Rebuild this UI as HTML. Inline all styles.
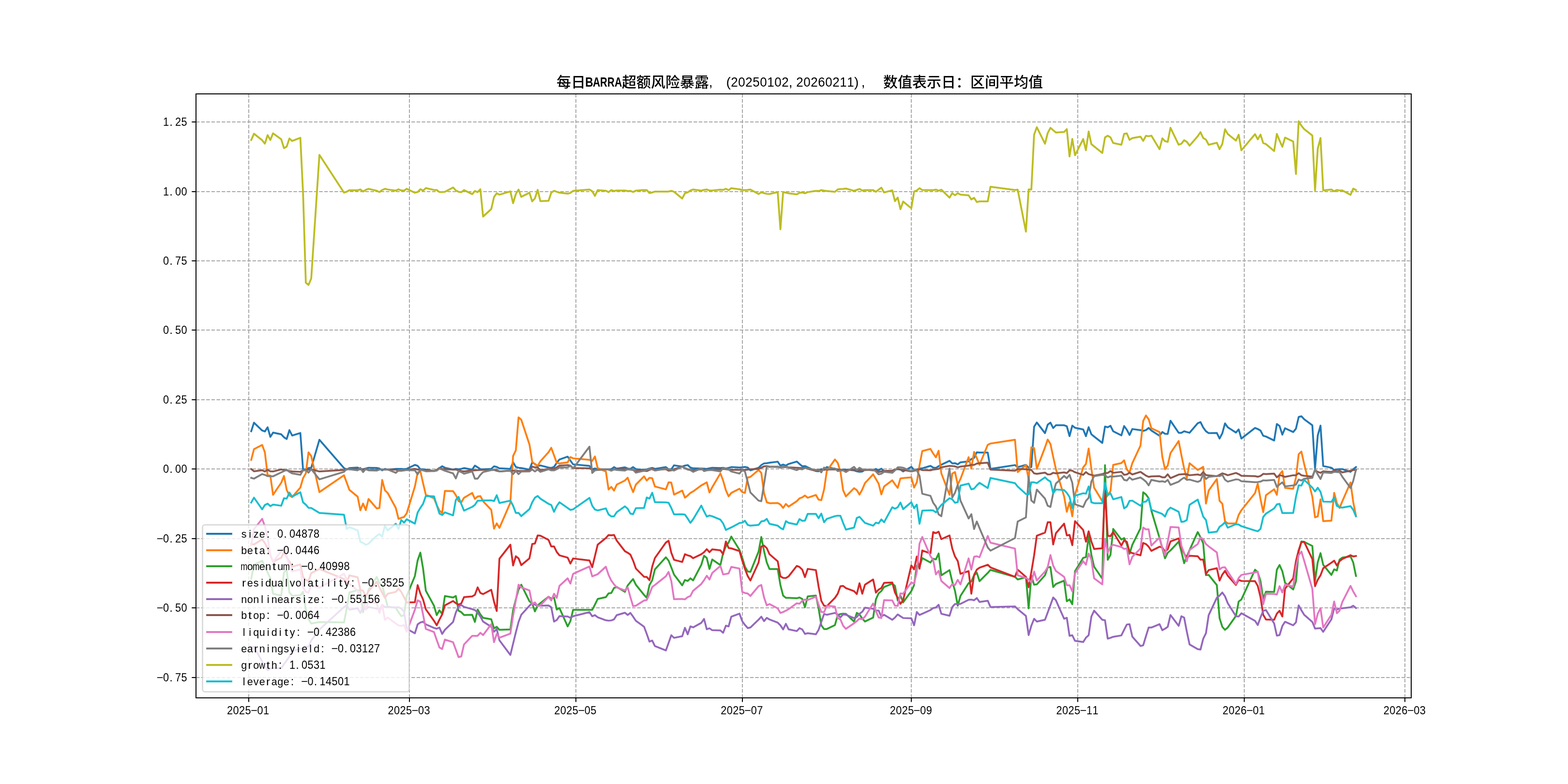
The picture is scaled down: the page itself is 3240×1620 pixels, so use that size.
<!DOCTYPE html>
<html lang="zh-CN"><head><meta charset="utf-8">
<title>每日BARRA超额风险暴露</title>
<style>html,body{margin:0;padding:0;background:#fff;}body{width:3240px;height:1620px;overflow:hidden;}svg{display:block;}text{font-family:"Liberation Sans", "Noto Sans CJK SC", sans-serif;}</style>
</head><body>
<svg xmlns="http://www.w3.org/2000/svg" width="3240" height="1620" viewBox="0 0 3240 1620">
<rect x="0" y="0" width="3240" height="1620" fill="#ffffff"/>
<defs><clipPath id="axclip"><rect x="405" y="194.4" width="2511" height="1247.4"/></clipPath></defs>
<g fill="none" stroke="#a8a8a8" stroke-width="2" stroke-dasharray="7.4 3.2">
<path d="M514 1441.8 V194.4"/>
<path d="M846 1441.8 V194.4"/>
<path d="M1190 1441.8 V194.4"/>
<path d="M1534 1441.8 V194.4"/>
<path d="M1883 1441.8 V194.4"/>
<path d="M2227 1441.8 V194.4"/>
<path d="M2571 1441.8 V194.4"/>
<path d="M2903 1441.8 V194.4"/>
<path d="M405 252 H2916"/>
<path d="M405 396 H2916"/>
<path d="M405 539 H2916"/>
<path d="M405 682 H2916"/>
<path d="M405 826 H2916"/>
<path d="M405 969 H2916"/>
<path d="M405 1113 H2916"/>
<path d="M405 1256 H2916"/>
<path d="M405 1400 H2916"/>
</g>
<g clip-path="url(#axclip)" fill="none" stroke-width="3.75" stroke-linejoin="round" stroke-linecap="square">
<path stroke="#1f77b4" d="M519.1 891.1 L524.8 873.3 L541.7 889.6 L547.3 891.6 L553.0 882.9 L558.6 902.8 L564.2 893.9 L581.1 897.4 L586.8 903.6 L592.4 907.1 L598.0 888.8 L603.7 900.0 L620.6 894.7 L626.2 970.3 L631.9 969.6 L637.5 967.2 L643.1 966.5 L660.0 908.7 L710.8 967.2 L716.4 970.3 L722.0 967.2 L739.0 966.1 L744.6 968.8 L750.2 969.6 L755.9 968.0 L761.5 966.5 L778.4 966.8 L784.0 968.0 L789.7 971.9 L795.3 968.8 L801.0 970.3 L817.9 968.8 L823.5 968.8 L829.1 968.8 L834.8 969.3 L840.4 968.8 L857.3 960.6 L863.0 962.6 L868.6 969.6 L874.2 969.6 L879.9 970.3 L896.8 973.4 L902.4 971.1 L908.0 967.2 L913.7 963.4 L919.3 966.5 L936.2 970.3 L941.9 968.8 L947.5 969.6 L953.1 968.8 L958.8 967.2 L975.7 970.3 L981.3 962.1 L987.0 965.7 L992.6 969.3 L998.2 969.6 L1015.1 968.8 L1020.8 963.7 L1026.4 964.9 L1032.0 967.7 L1054.6 968.8 L1060.2 955.3 L1065.9 964.9 L1071.5 966.5 L1077.1 967.2 L1094.0 970.3 L1099.7 955.6 L1105.3 958.7 L1111.0 962.6 L1116.6 961.8 L1133.5 966.1 L1139.1 966.8 L1144.8 964.9 L1150.4 956.4 L1156.0 949.4 L1173.0 943.6 L1178.6 951.7 L1184.2 959.5 L1218.0 962.6 L1223.7 969.6 L1229.3 968.0 L1235.0 969.3 L1251.9 969.6 L1257.5 969.6 L1263.1 969.6 L1268.8 965.2 L1274.4 968.3 L1291.3 965.7 L1297.0 968.0 L1302.6 968.8 L1308.2 965.2 L1313.9 969.3 L1330.8 971.1 L1336.4 969.9 L1342.0 968.0 L1347.7 966.8 L1353.3 968.8 L1375.9 965.2 L1381.5 969.6 L1387.1 969.6 L1392.8 961.5 L1409.7 964.1 L1415.3 962.1 L1421.0 961.0 L1426.6 966.1 L1432.2 967.7 L1449.1 968.0 L1454.8 968.3 L1460.4 968.8 L1466.0 967.7 L1471.7 966.5 L1488.6 967.2 L1494.2 966.5 L1499.9 968.0 L1505.5 966.8 L1511.1 965.2 L1528.0 966.1 L1533.7 965.7 L1539.3 964.9 L1545.0 966.1 L1550.6 971.9 L1567.5 966.5 L1573.1 961.0 L1578.8 957.5 L1584.4 957.1 L1590.0 956.1 L1607.0 954.0 L1612.6 962.1 L1618.2 959.9 L1623.9 962.1 L1629.5 958.7 L1646.4 953.7 L1652.0 958.7 L1657.7 963.4 L1663.3 963.0 L1669.0 965.7 L1685.9 973.4 L1691.5 973.9 L1697.1 969.3 L1702.8 970.8 L1708.4 965.2 L1725.3 968.8 L1731.0 969.9 L1736.6 970.8 L1742.2 970.3 L1747.9 970.3 L1764.8 971.9 L1770.4 973.9 L1776.0 975.0 L1781.7 974.5 L1787.3 970.3 L1804.2 971.9 L1809.9 968.8 L1815.5 971.9 L1821.1 968.3 L1826.8 973.4 L1843.7 972.7 L1849.3 970.3 L1855.0 969.3 L1860.6 970.3 L1866.2 974.2 L1883.1 964.6 L1888.8 971.1 L1894.4 970.3 L1900.0 968.0 L1905.7 967.7 L1922.6 962.6 L1928.2 966.1 L1933.9 966.8 L1939.5 963.4 L1945.1 960.2 L1962.0 952.2 L1967.7 957.5 L1973.3 957.1 L1979.0 959.5 L1984.6 955.3 L2001.5 953.3 L2007.1 948.6 L2012.8 946.3 L2018.4 934.6 L2024.0 935.1 L2041.0 935.1 L2046.6 968.8 L2097.3 961.0 L2102.9 965.2 L2119.9 960.6 L2125.5 966.5 L2131.1 965.2 L2136.8 881.8 L2142.4 873.0 L2159.3 895.0 L2164.9 877.6 L2170.6 873.3 L2176.2 884.5 L2181.9 878.7 L2198.8 878.7 L2204.4 880.7 L2210.0 901.2 L2215.7 879.5 L2221.3 883.9 L2238.2 887.3 L2243.9 901.2 L2249.5 882.6 L2255.1 897.4 L2260.8 902.0 L2277.7 915.2 L2283.3 881.4 L2288.9 882.9 L2294.6 879.8 L2300.2 891.1 L2317.1 899.7 L2322.8 880.3 L2328.4 888.0 L2334.0 898.9 L2339.7 886.5 L2356.6 888.8 L2362.2 890.4 L2367.9 888.8 L2373.5 884.2 L2379.1 889.6 L2396.0 900.5 L2401.7 892.7 L2407.3 896.3 L2412.9 896.6 L2418.6 869.4 L2435.5 894.3 L2441.1 894.3 L2446.8 891.1 L2452.4 892.7 L2458.0 894.3 L2474.9 874.5 L2480.6 872.2 L2486.2 883.4 L2491.9 891.1 L2497.5 895.0 L2514.4 894.6 L2520.0 906.2 L2525.7 895.3 L2531.3 874.8 L2536.9 882.9 L2553.9 893.8 L2559.5 887.3 L2565.1 906.2 L2593.3 884.2 L2598.9 886.5 L2604.6 889.6 L2610.2 900.5 L2615.9 902.0 L2632.8 910.2 L2638.4 876.1 L2644.0 880.3 L2649.7 898.1 L2655.3 884.9 L2672.2 892.7 L2677.9 885.7 L2683.5 861.6 L2689.1 860.1 L2694.8 866.3 L2711.7 878.7 L2717.3 968.8 L2722.9 899.7 L2728.6 879.5 L2734.2 963.0 L2751.1 966.5 L2756.8 971.1 L2762.4 969.9 L2768.0 969.3 L2773.7 969.3 L2790.6 975.0 L2796.2 969.6 L2801.9 965.2"/>
<path stroke="#ff7f0e" d="M519.1 950.2 L524.8 928.1 L541.7 919.4 L547.3 934.6 L553.0 982.0 L558.6 982.8 L564.2 1022.4 L581.1 997.5 L586.8 983.5 L592.4 1012.3 L598.0 1023.9 L603.7 1027.0 L620.6 1007.6 L626.2 988.2 L631.9 978.1 L637.5 934.6 L643.1 942.4 L660.0 1016.9 L710.8 982.0 L716.4 997.2 L722.0 1012.3 L739.0 1026.2 L744.6 1054.3 L750.2 1040.4 L755.9 1054.0 L761.5 1031.1 L778.4 1050.5 L784.0 1049.7 L789.7 991.6 L795.3 1013.0 L801.0 1018.5 L817.9 1049.7 L823.5 1072.2 L829.1 1069.9 L834.8 1068.3 L840.4 1060.6 L857.3 1005.3 L863.0 976.6 L868.6 973.4 L874.2 998.3 L879.9 1022.4 L896.8 1029.5 L902.4 1043.5 L908.0 1055.1 L913.7 1059.8 L919.3 1014.3 L936.2 1014.9 L941.9 1023.1 L947.5 1035.6 L953.1 1037.9 L958.8 1028.6 L975.7 1018.5 L981.3 1030.9 L987.0 1025.8 L992.6 1025.2 L998.2 1035.7 L1015.1 1053.6 L1020.8 1092.4 L1026.4 1081.5 L1032.0 1090.8 L1054.6 1038.7 L1060.2 942.4 L1065.9 930.4 L1071.5 862.4 L1077.1 867.4 L1094.0 918.3 L1099.7 954.0 L1105.3 959.5 L1111.0 962.6 L1116.6 953.3 L1133.5 934.3 L1139.1 925.3 L1144.8 940.8 L1150.4 956.4 L1156.0 957.6 L1173.0 955.3 L1178.6 944.4 L1184.2 947.0 L1218.0 950.2 L1223.7 952.5 L1229.3 943.2 L1235.0 967.2 L1251.9 974.2 L1257.5 1011.5 L1263.1 1006.1 L1268.8 1013.8 L1274.4 1001.4 L1291.3 992.9 L1297.0 987.0 L1302.6 1003.0 L1308.2 1016.9 L1313.9 1001.4 L1330.8 984.3 L1336.4 992.9 L1342.0 987.4 L1347.7 988.2 L1353.3 1005.3 L1375.9 1011.2 L1381.5 996.7 L1387.1 997.2 L1392.8 1022.0 L1409.7 1013.8 L1415.3 1028.3 L1421.0 1023.9 L1426.6 1018.5 L1432.2 1015.4 L1449.1 1003.0 L1454.8 999.8 L1460.4 996.7 L1466.0 1017.7 L1471.7 1006.8 L1488.6 978.1 L1494.2 992.9 L1499.9 1013.0 L1505.5 1025.5 L1511.1 1018.5 L1528.0 1009.9 L1533.7 1016.9 L1539.3 1018.5 L1545.0 986.6 L1550.6 985.4 L1567.5 971.1 L1573.1 977.3 L1578.8 1019.3 L1584.4 1037.9 L1590.0 1039.8 L1607.0 1039.4 L1612.6 1042.5 L1618.2 1049.5 L1623.9 1041.3 L1629.5 1046.9 L1646.4 1035.6 L1652.0 1029.8 L1657.7 1027.8 L1663.3 1023.9 L1669.0 1028.6 L1685.9 1022.7 L1691.5 1032.5 L1697.1 1033.5 L1702.8 1011.5 L1708.4 973.4 L1725.3 949.4 L1731.0 956.4 L1736.6 974.2 L1742.2 1013.0 L1747.9 1025.8 L1764.8 1008.7 L1770.4 1012.7 L1776.0 1022.0 L1781.7 1011.5 L1787.3 998.3 L1804.2 980.1 L1809.9 989.8 L1815.5 999.4 L1821.1 1021.6 L1826.8 1005.3 L1843.7 992.5 L1849.3 1000.6 L1855.0 1008.1 L1860.6 988.5 L1866.2 987.9 L1883.1 986.3 L1888.8 1007.6 L1894.4 996.7 L1900.0 961.8 L1905.7 932.0 L1922.6 927.6 L1928.2 937.0 L1933.9 945.0 L1939.5 931.5 L1945.1 978.1 L1962.0 1022.4 L1967.7 978.6 L1973.3 975.5 L1979.0 1001.4 L1984.6 989.8 L2001.5 944.7 L2007.1 968.3 L2012.8 933.9 L2018.4 946.3 L2024.0 960.6 L2041.0 919.1 L2046.6 916.5 L2097.3 908.7 L2102.9 975.5 L2119.9 961.0 L2125.5 990.5 L2131.1 924.2 L2136.8 925.8 L2142.4 968.8 L2159.3 924.5 L2164.9 908.2 L2170.6 917.5 L2176.2 943.9 L2181.9 969.6 L2198.8 1025.6 L2204.4 1057.5 L2210.0 1038.0 L2215.7 1066.8 L2221.3 1022.5 L2238.2 965.7 L2243.9 958.7 L2249.5 926.9 L2255.1 968.0 L2260.8 1007.8 L2277.7 1035.4 L2283.3 1031.1 L2288.9 1023.3 L2294.6 1014.8 L2300.2 960.6 L2317.1 956.8 L2322.8 951.2 L2328.4 970.3 L2334.0 976.1 L2339.7 957.1 L2356.6 920.7 L2362.2 869.9 L2367.9 858.5 L2373.5 866.3 L2379.1 884.9 L2396.0 892.7 L2401.7 943.9 L2407.3 969.6 L2412.9 961.8 L2418.6 936.2 L2435.5 911.3 L2441.1 940.1 L2446.8 968.0 L2452.4 988.2 L2458.0 957.1 L2474.9 971.1 L2480.6 968.0 L2486.2 964.6 L2491.9 1040.7 L2497.5 1013.7 L2514.4 989.9 L2520.0 1034.9 L2525.7 1040.7 L2531.3 1077.3 L2536.9 1081.5 L2553.9 1081.5 L2559.5 1064.0 L2565.1 1054.3 L2593.3 1018.9 L2598.9 999.2 L2604.6 1031.1 L2610.2 1058.2 L2615.9 1023.3 L2632.8 1010.9 L2638.4 1022.5 L2644.0 980.4 L2649.7 973.4 L2655.3 1008.1 L2672.2 1009.9 L2677.9 986.6 L2683.5 938.5 L2689.1 933.1 L2694.8 958.7 L2711.7 1026.4 L2717.3 1069.1 L2722.9 1067.1 L2728.6 1031.8 L2734.2 1076.9 L2751.1 1075.8 L2756.8 1018.3 L2762.4 1039.6 L2768.0 1049.7 L2773.7 1035.7 L2790.6 996.9 L2796.2 1037.3 L2801.9 1066.0"/>
<path stroke="#2ca02c" d="M519.1 1195.9 L524.8 1167.1 L541.7 1158.6 L547.3 1171.8 L553.0 1182.7 L558.6 1195.1 L564.2 1226.9 L581.1 1230.8 L586.8 1182.7 L592.4 1178.0 L598.0 1224.6 L603.7 1230.8 L620.6 1230.0 L626.2 1223.0 L631.9 1259.8 L637.5 1279.2 L643.1 1288.5 L660.0 1285.4 L710.8 1286.2 L716.4 1257.5 L722.0 1224.1 L739.0 1219.4 L744.6 1221.0 L750.2 1265.2 L755.9 1238.8 L761.5 1218.6 L778.4 1192.2 L784.0 1204.7 L789.7 1209.3 L795.3 1231.1 L801.0 1253.6 L817.9 1255.9 L823.5 1265.2 L829.1 1273.0 L834.8 1271.4 L840.4 1231.0 L857.3 1190.4 L863.0 1157.8 L868.6 1142.0 L874.2 1174.8 L879.9 1220.7 L896.8 1251.7 L902.4 1271.1 L908.0 1261.0 L913.7 1268.8 L919.3 1231.5 L936.2 1234.6 L941.9 1231.5 L947.5 1261.8 L953.1 1264.9 L958.8 1270.8 L975.7 1270.3 L981.3 1285.1 L987.0 1259.5 L992.6 1269.6 L998.2 1276.6 L1015.1 1279.7 L1020.8 1298.3 L1026.4 1295.2 L1032.0 1301.4 L1054.6 1300.6 L1060.2 1261.0 L1065.9 1238.5 L1071.5 1218.3 L1077.1 1208.2 L1094.0 1242.4 L1099.7 1247.0 L1105.3 1263.4 L1111.0 1250.9 L1116.6 1246.3 L1133.5 1233.1 L1139.1 1237.0 L1144.8 1234.6 L1150.4 1259.5 L1156.0 1256.4 L1173.0 1294.4 L1178.6 1283.5 L1184.2 1260.2 L1218.0 1260.2 L1223.7 1260.2 L1229.3 1249.4 L1235.0 1237.7 L1251.9 1233.9 L1257.5 1226.1 L1263.1 1225.3 L1268.8 1214.9 L1274.4 1212.9 L1291.3 1223.0 L1297.0 1209.8 L1302.6 1202.8 L1308.2 1196.6 L1313.9 1208.2 L1330.8 1229.2 L1336.4 1235.1 L1342.0 1209.0 L1347.7 1198.9 L1353.3 1176.4 L1375.9 1151.6 L1381.5 1158.4 L1387.1 1172.4 L1392.8 1187.3 L1409.7 1209.5 L1415.3 1198.4 L1421.0 1200.5 L1426.6 1195.0 L1432.2 1199.4 L1449.1 1167.1 L1454.8 1148.3 L1460.4 1153.0 L1466.0 1175.8 L1471.7 1156.1 L1488.6 1167.7 L1494.2 1142.9 L1499.9 1128.9 L1505.5 1121.1 L1511.1 1108.7 L1528.0 1136.3 L1533.7 1152.2 L1539.3 1170.8 L1545.0 1180.9 L1550.6 1181.7 L1567.5 1139.8 L1573.1 1109.5 L1578.8 1139.0 L1584.4 1162.3 L1590.0 1175.8 L1607.0 1175.8 L1612.6 1209.0 L1618.2 1230.7 L1623.9 1235.4 L1629.5 1235.4 L1646.4 1236.2 L1652.0 1234.6 L1657.7 1237.7 L1663.3 1254.8 L1669.0 1232.3 L1685.9 1230.7 L1691.5 1257.1 L1697.1 1292.1 L1702.8 1299.8 L1708.4 1299.8 L1725.3 1291.6 L1731.0 1271.1 L1736.6 1268.8 L1742.2 1268.0 L1747.9 1268.3 L1764.8 1284.3 L1770.4 1266.5 L1776.0 1269.6 L1781.7 1278.1 L1787.3 1284.3 L1804.2 1276.1 L1809.9 1238.5 L1815.5 1226.1 L1821.1 1221.4 L1826.8 1212.9 L1843.7 1205.9 L1849.3 1210.6 L1855.0 1240.8 L1860.6 1230.7 L1866.2 1244.7 L1883.1 1221.4 L1888.8 1209.0 L1894.4 1168.6 L1900.0 1171.7 L1905.7 1153.1 L1922.6 1162.4 L1928.2 1154.7 L1933.9 1155.9 L1939.5 1143.8 L1945.1 1188.8 L1962.0 1178.0 L1967.7 1202.0 L1973.3 1220.7 L1979.0 1251.7 L1984.6 1231.5 L2001.5 1205.1 L2007.1 1201.2 L2012.8 1188.8 L2018.4 1183.4 L2024.0 1200.9 L2041.0 1183.9 L2046.6 1177.6 L2097.3 1191.9 L2102.9 1197.4 L2119.9 1192.7 L2125.5 1257.1 L2131.1 1189.6 L2136.8 1208.2 L2142.4 1207.5 L2159.3 1188.8 L2164.9 1172.5 L2170.6 1171.7 L2176.2 1212.9 L2181.9 1206.7 L2198.8 1199.7 L2204.4 1242.4 L2210.0 1238.5 L2215.7 1248.6 L2221.3 1180.3 L2238.2 1152.8 L2243.9 1151.2 L2249.5 1108.1 L2255.1 1146.1 L2260.8 1171.0 L2277.7 1195.8 L2283.3 961.2 L2288.9 1156.8 L2294.6 1146.7 L2300.2 1092.9 L2317.1 1114.9 L2322.8 1111.8 L2328.4 1124.2 L2334.0 1144.4 L2339.7 1125.8 L2356.6 1091.6 L2362.2 1017.1 L2367.9 1021.7 L2373.5 1029.5 L2379.1 1055.1 L2396.0 1111.8 L2401.7 1132.8 L2407.3 1153.7 L2412.9 1142.1 L2418.6 1137.4 L2435.5 1119.3 L2441.1 1139.8 L2446.8 1163.8 L2452.4 1149.8 L2458.0 1136.6 L2474.9 1099.4 L2480.6 1110.2 L2486.2 1122.7 L2491.9 1188.5 L2497.5 1188.0 L2514.4 1209.0 L2520.0 1277.3 L2525.7 1295.2 L2531.3 1301.4 L2536.9 1296.7 L2553.9 1272.7 L2559.5 1242.9 L2565.1 1238.8 L2593.3 1177.2 L2598.9 1182.6 L2604.6 1200.5 L2610.2 1237.0 L2615.9 1222.7 L2632.8 1223.0 L2638.4 1177.2 L2644.0 1167.4 L2649.7 1180.3 L2655.3 1204.3 L2672.2 1218.0 L2677.9 1201.2 L2683.5 1139.9 L2689.1 1118.8 L2694.8 1119.6 L2711.7 1128.1 L2717.3 1200.5 L2722.9 1161.6 L2728.6 1143.0 L2734.2 1167.1 L2751.1 1188.0 L2756.8 1176.4 L2762.4 1178.7 L2768.0 1156.2 L2773.7 1152.2 L2790.6 1149.8 L2796.2 1162.3 L2801.9 1190.1"/>
<path stroke="#d62728" d="M519.1 1123.7 L524.8 1125.2 L541.7 1114.3 L547.3 1122.1 L553.0 1133.0 L558.6 1147.0 L564.2 1160.9 L581.1 1152.4 L586.8 1140.7 L592.4 1151.6 L598.0 1160.2 L603.7 1171.0 L620.6 1166.4 L626.2 1192.0 L631.9 1198.2 L637.5 1200.5 L643.1 1184.2 L660.0 1175.7 L710.8 1196.6 L716.4 1204.4 L722.0 1188.9 L739.0 1192.8 L744.6 1218.4 L750.2 1220.7 L755.9 1232.4 L761.5 1221.5 L778.4 1202.1 L784.0 1213.7 L789.7 1224.6 L795.3 1235.5 L801.0 1226.9 L817.9 1223.0 L823.5 1216.1 L829.1 1223.0 L834.8 1233.9 L840.4 1244.8 L857.3 1244.3 L863.0 1209.0 L868.6 1226.4 L874.2 1238.8 L879.9 1259.0 L896.8 1282.8 L902.4 1292.1 L908.0 1280.4 L913.7 1269.6 L919.3 1250.9 L936.2 1241.9 L941.9 1246.3 L947.5 1249.4 L953.1 1247.0 L958.8 1233.9 L975.7 1232.3 L981.3 1229.2 L987.0 1213.7 L992.6 1225.3 L998.2 1227.6 L1015.1 1218.6 L1020.8 1243.2 L1026.4 1262.6 L1032.0 1154.5 L1054.6 1125.5 L1060.2 1168.5 L1065.9 1149.4 L1071.5 1153.7 L1077.1 1167.7 L1094.0 1153.7 L1099.7 1124.2 L1105.3 1123.1 L1111.0 1106.4 L1116.6 1106.8 L1133.5 1115.7 L1139.1 1129.2 L1144.8 1129.2 L1150.4 1140.5 L1156.0 1147.5 L1173.0 1152.2 L1178.6 1164.6 L1184.2 1154.0 L1218.0 1158.1 L1223.7 1172.0 L1229.3 1149.1 L1235.0 1125.5 L1251.9 1111.8 L1257.5 1105.6 L1263.1 1106.1 L1268.8 1105.3 L1274.4 1117.2 L1291.3 1139.0 L1297.0 1142.1 L1302.6 1146.0 L1308.2 1158.4 L1313.9 1174.7 L1330.8 1191.8 L1336.4 1192.2 L1342.0 1198.8 L1347.7 1170.8 L1353.3 1153.0 L1375.9 1121.1 L1381.5 1117.2 L1387.1 1142.1 L1392.8 1156.8 L1409.7 1161.2 L1415.3 1145.2 L1421.0 1147.5 L1426.6 1149.1 L1432.2 1153.4 L1449.1 1145.2 L1454.8 1141.0 L1460.4 1134.8 L1466.0 1141.0 L1471.7 1135.1 L1488.6 1137.1 L1494.2 1145.2 L1499.9 1118.8 L1505.5 1132.3 L1511.1 1133.1 L1528.0 1138.7 L1533.7 1158.4 L1539.3 1175.5 L1545.0 1190.2 L1550.6 1199.5 L1567.5 1162.3 L1573.1 1129.2 L1578.8 1127.3 L1584.4 1132.5 L1590.0 1145.2 L1607.0 1159.9 L1612.6 1191.0 L1618.2 1194.1 L1623.9 1194.4 L1629.5 1191.0 L1646.4 1169.3 L1652.0 1171.6 L1657.7 1177.0 L1663.3 1192.5 L1669.0 1175.5 L1685.9 1178.0 L1691.5 1212.1 L1697.1 1241.6 L1702.8 1251.7 L1708.4 1252.5 L1725.3 1235.4 L1731.0 1226.9 L1736.6 1211.3 L1742.2 1210.6 L1747.9 1215.2 L1764.8 1221.4 L1770.4 1227.6 L1776.0 1205.1 L1781.7 1226.9 L1787.3 1208.2 L1804.2 1197.4 L1809.9 1224.5 L1815.5 1218.3 L1821.1 1215.2 L1826.8 1204.3 L1843.7 1203.6 L1849.3 1224.5 L1855.0 1235.4 L1860.6 1247.8 L1866.2 1240.1 L1883.1 1168.3 L1888.8 1176.4 L1894.4 1150.0 L1900.0 1175.2 L1905.7 1137.4 L1922.6 1143.6 L1928.2 1099.4 L1933.9 1101.7 L1939.5 1098.6 L1945.1 1114.1 L1962.0 1106.4 L1967.7 1133.5 L1973.3 1149.8 L1979.0 1159.2 L1984.6 1185.6 L2001.5 1180.1 L2007.1 1226.9 L2012.8 1187.9 L2018.4 1177.0 L2024.0 1173.1 L2041.0 1166.9 L2046.6 1172.4 L2097.3 1191.9 L2102.9 1177.2 L2119.9 1192.2 L2125.5 1213.4 L2131.1 1181.8 L2136.8 1147.5 L2142.4 1107.1 L2159.3 1100.6 L2164.9 1079.2 L2170.6 1079.2 L2176.2 1125.0 L2181.9 1101.7 L2198.8 1082.0 L2204.4 1106.4 L2210.0 1105.3 L2215.7 1126.6 L2221.3 1076.9 L2238.2 1095.0 L2243.9 1119.3 L2249.5 1097.8 L2255.1 1118.8 L2260.8 1134.3 L2277.7 1132.8 L2283.3 1014.8 L2288.9 1107.1 L2294.6 1107.9 L2300.2 1099.4 L2317.1 1127.3 L2322.8 1116.5 L2328.4 1119.6 L2334.0 1140.5 L2339.7 1142.9 L2356.6 1147.5 L2362.2 1121.9 L2367.9 1124.2 L2373.5 1129.7 L2379.1 1138.2 L2396.0 1129.7 L2401.7 1131.2 L2407.3 1139.8 L2412.9 1135.1 L2418.6 1118.8 L2435.5 1112.6 L2441.1 1131.2 L2446.8 1143.6 L2452.4 1153.0 L2458.0 1148.3 L2474.9 1149.4 L2480.6 1156.5 L2486.2 1156.1 L2491.9 1186.3 L2497.5 1178.0 L2514.4 1174.1 L2520.0 1199.7 L2525.7 1187.3 L2531.3 1179.5 L2536.9 1189.6 L2553.9 1208.7 L2559.5 1198.1 L2565.1 1200.5 L2593.3 1200.9 L2598.9 1210.6 L2604.6 1233.9 L2610.2 1270.3 L2615.9 1280.1 L2632.8 1280.7 L2638.4 1268.0 L2644.0 1262.1 L2649.7 1273.9 L2655.3 1216.5 L2672.2 1195.0 L2677.9 1159.3 L2683.5 1136.8 L2689.1 1120.3 L2694.8 1119.6 L2711.7 1155.3 L2717.3 1211.3 L2722.9 1198.1 L2728.6 1188.8 L2734.2 1174.1 L2751.1 1162.7 L2756.8 1158.5 L2762.4 1168.6 L2768.0 1159.6 L2773.7 1155.0 L2790.6 1147.2 L2796.2 1149.8 L2801.9 1148.8"/>
<path stroke="#9467bd" d="M519.1 1337.4 L524.8 1336.6 L541.7 1366.9 L547.3 1376.2 L553.0 1384.8 L558.6 1381.7 L564.2 1380.9 L581.1 1380.9 L586.8 1372.4 L592.4 1364.6 L598.0 1356.8 L603.7 1345.2 L620.6 1340.5 L626.2 1339.0 L631.9 1335.9 L637.5 1336.6 L643.1 1323.4 L660.0 1300.9 L710.8 1254.3 L716.4 1250.5 L722.0 1259.8 L739.0 1256.7 L744.6 1266.8 L750.2 1254.3 L755.9 1259.0 L761.5 1254.3 L778.4 1257.5 L784.0 1259.8 L789.7 1249.7 L795.3 1254.3 L801.0 1254.3 L817.9 1255.1 L823.5 1254.7 L829.1 1257.5 L834.8 1263.7 L840.4 1299.4 L857.3 1308.7 L863.0 1290.1 L868.6 1286.2 L874.2 1284.6 L879.9 1290.1 L896.8 1297.5 L902.4 1299.1 L908.0 1296.7 L913.7 1309.9 L919.3 1301.4 L936.2 1285.1 L941.9 1265.7 L947.5 1253.3 L953.1 1250.2 L958.8 1254.0 L975.7 1258.7 L981.3 1260.6 L987.0 1265.7 L992.6 1274.2 L998.2 1284.3 L1015.1 1295.2 L1020.8 1305.3 L1026.4 1299.8 L1032.0 1323.1 L1054.6 1353.3 L1060.2 1330.1 L1065.9 1306.8 L1071.5 1285.1 L1077.1 1270.3 L1094.0 1251.7 L1099.7 1246.3 L1105.3 1249.4 L1111.0 1251.7 L1116.6 1251.7 L1133.5 1251.2 L1139.1 1254.8 L1144.8 1284.3 L1150.4 1281.2 L1156.0 1273.1 L1173.0 1273.9 L1178.6 1276.6 L1184.2 1273.4 L1218.0 1264.9 L1223.7 1273.4 L1229.3 1271.1 L1235.0 1275.5 L1251.9 1281.7 L1257.5 1282.5 L1263.1 1282.0 L1268.8 1279.7 L1274.4 1271.1 L1291.3 1266.1 L1297.0 1270.8 L1302.6 1266.5 L1308.2 1274.2 L1313.9 1282.8 L1330.8 1294.9 L1336.4 1309.9 L1342.0 1325.8 L1347.7 1323.6 L1353.3 1335.1 L1375.9 1344.1 L1381.5 1328.6 L1387.1 1312.6 L1392.8 1318.0 L1409.7 1314.6 L1415.3 1297.2 L1421.0 1310.7 L1426.6 1294.4 L1432.2 1296.3 L1449.1 1287.0 L1454.8 1278.9 L1460.4 1300.3 L1466.0 1298.3 L1471.7 1302.2 L1488.6 1302.6 L1494.2 1307.6 L1499.9 1292.9 L1505.5 1294.4 L1511.1 1274.2 L1528.0 1268.0 L1533.7 1283.5 L1539.3 1291.3 L1545.0 1297.8 L1550.6 1296.7 L1567.5 1280.4 L1573.1 1274.2 L1578.8 1283.5 L1584.4 1276.6 L1590.0 1280.1 L1607.0 1286.6 L1612.6 1292.1 L1618.2 1300.6 L1623.9 1289.0 L1629.5 1300.3 L1646.4 1304.0 L1652.0 1298.0 L1657.7 1300.6 L1663.3 1309.9 L1669.0 1308.4 L1685.9 1310.7 L1691.5 1301.4 L1697.1 1285.1 L1702.8 1268.8 L1708.4 1270.3 L1725.3 1266.5 L1731.0 1269.9 L1736.6 1275.8 L1742.2 1269.6 L1747.9 1270.3 L1764.8 1277.3 L1770.4 1275.0 L1776.0 1268.3 L1781.7 1264.1 L1787.3 1255.6 L1804.2 1257.9 L1809.9 1261.5 L1815.5 1261.5 L1821.1 1274.2 L1826.8 1270.3 L1843.7 1280.7 L1849.3 1276.1 L1855.0 1269.6 L1860.6 1273.4 L1866.2 1277.0 L1883.1 1277.6 L1888.8 1292.1 L1894.4 1264.6 L1900.0 1270.8 L1905.7 1268.3 L1922.6 1260.6 L1928.2 1256.4 L1933.9 1255.3 L1939.5 1249.7 L1945.1 1268.3 L1962.0 1272.4 L1967.7 1254.3 L1973.3 1248.1 L1979.0 1248.1 L1984.6 1247.8 L2001.5 1239.3 L2007.1 1239.0 L2012.8 1240.4 L2018.4 1235.7 L2024.0 1243.9 L2041.0 1241.3 L2046.6 1254.3 L2097.3 1253.0 L2102.9 1258.7 L2119.9 1272.7 L2125.5 1312.3 L2131.1 1292.9 L2136.8 1278.6 L2142.4 1284.3 L2159.3 1280.7 L2164.9 1265.7 L2170.6 1250.2 L2176.2 1234.6 L2181.9 1240.4 L2198.8 1278.6 L2204.4 1276.6 L2210.0 1313.8 L2215.7 1312.7 L2221.3 1324.2 L2238.2 1326.7 L2243.9 1317.7 L2249.5 1312.7 L2255.1 1274.2 L2260.8 1261.8 L2277.7 1280.7 L2283.3 1281.7 L2288.9 1319.6 L2294.6 1318.0 L2300.2 1315.8 L2317.1 1313.0 L2322.8 1301.4 L2328.4 1290.5 L2334.0 1289.8 L2339.7 1315.4 L2356.6 1334.8 L2362.2 1333.5 L2367.9 1314.6 L2373.5 1296.7 L2379.1 1296.7 L2396.0 1289.8 L2401.7 1302.2 L2407.3 1299.1 L2412.9 1295.2 L2418.6 1270.8 L2435.5 1293.2 L2441.1 1273.4 L2446.8 1276.1 L2452.4 1305.3 L2458.0 1331.7 L2474.9 1341.3 L2480.6 1342.2 L2486.2 1320.0 L2491.9 1308.4 L2497.5 1271.1 L2514.4 1235.1 L2520.0 1230.7 L2525.7 1224.2 L2531.3 1232.3 L2536.9 1246.3 L2553.9 1273.4 L2559.5 1273.9 L2565.1 1267.2 L2593.3 1282.8 L2598.9 1291.6 L2604.6 1275.8 L2610.2 1262.1 L2615.9 1260.6 L2632.8 1288.2 L2638.4 1313.4 L2644.0 1312.3 L2649.7 1293.6 L2655.3 1284.8 L2672.2 1292.1 L2677.9 1285.9 L2683.5 1250.9 L2689.1 1261.0 L2694.8 1270.3 L2711.7 1285.1 L2717.3 1298.8 L2722.9 1298.3 L2728.6 1297.8 L2734.2 1305.6 L2751.1 1279.7 L2756.8 1257.1 L2762.4 1259.5 L2768.0 1257.5 L2773.7 1256.8 L2790.6 1254.8 L2796.2 1251.7 L2801.9 1256.4"/>
<path stroke="#8c564b" d="M519.1 969.3 L524.8 973.8 L541.7 971.6 L547.3 974.2 L553.0 970.8 L558.6 973.8 L564.2 974.2 L581.1 970.0 L586.8 971.1 L592.4 971.6 L598.0 973.4 L603.7 974.2 L620.6 975.0 L626.2 971.9 L631.9 971.1 L637.5 970.3 L643.1 969.9 L660.0 974.2 L710.8 971.1 L716.4 969.3 L722.0 969.6 L739.0 969.9 L744.6 969.9 L750.2 969.9 L755.9 969.6 L761.5 971.1 L778.4 970.8 L784.0 969.9 L789.7 970.2 L795.3 970.3 L801.0 970.3 L817.9 970.3 L823.5 972.7 L829.1 972.7 L834.8 971.9 L840.4 970.8 L857.3 968.8 L863.0 970.3 L868.6 970.3 L874.2 970.8 L879.9 972.7 L896.8 973.1 L902.4 971.1 L908.0 966.8 L913.7 968.8 L919.3 969.6 L936.2 970.3 L941.9 970.3 L947.5 971.9 L953.1 973.4 L958.8 974.2 L975.7 971.9 L981.3 971.9 L987.0 971.4 L992.6 971.1 L998.2 970.8 L1015.1 970.8 L1020.8 971.1 L1026.4 972.7 L1032.0 974.2 L1054.6 972.4 L1060.2 972.7 L1065.9 972.7 L1071.5 973.4 L1077.1 973.0 L1094.0 972.7 L1099.7 964.1 L1105.3 965.7 L1111.0 965.7 L1116.6 971.9 L1133.5 968.8 L1139.1 969.3 L1144.8 968.8 L1150.4 965.7 L1156.0 962.1 L1173.0 961.0 L1178.6 962.1 L1184.2 967.2 L1218.0 967.7 L1223.7 970.3 L1229.3 971.1 L1235.0 970.8 L1251.9 969.9 L1257.5 970.3 L1263.1 970.8 L1268.8 970.3 L1274.4 969.9 L1291.3 969.6 L1297.0 969.9 L1302.6 970.3 L1308.2 971.1 L1313.9 973.4 L1330.8 972.7 L1336.4 973.4 L1342.0 971.1 L1347.7 968.0 L1353.3 971.1 L1375.9 969.3 L1381.5 972.7 L1387.1 971.9 L1392.8 969.6 L1409.7 964.1 L1415.3 967.2 L1421.0 969.6 L1426.6 970.8 L1432.2 971.4 L1449.1 969.6 L1454.8 970.8 L1460.4 970.3 L1466.0 970.3 L1471.7 970.3 L1488.6 969.9 L1494.2 968.8 L1499.9 969.6 L1505.5 970.3 L1511.1 970.8 L1528.0 970.8 L1533.7 970.3 L1539.3 971.1 L1545.0 970.3 L1550.6 969.6 L1567.5 968.8 L1573.1 966.5 L1578.8 963.7 L1584.4 963.0 L1590.0 964.1 L1607.0 964.9 L1612.6 966.1 L1618.2 965.2 L1623.9 964.9 L1629.5 965.7 L1646.4 966.5 L1652.0 966.8 L1657.7 967.2 L1663.3 966.5 L1669.0 968.8 L1685.9 973.0 L1691.5 971.1 L1697.1 970.8 L1702.8 970.3 L1708.4 970.3 L1725.3 969.9 L1731.0 970.3 L1736.6 970.8 L1742.2 971.1 L1747.9 971.9 L1764.8 970.3 L1770.4 970.8 L1776.0 971.1 L1781.7 971.1 L1787.3 971.4 L1804.2 970.8 L1809.9 971.9 L1815.5 975.5 L1821.1 974.2 L1826.8 973.4 L1843.7 972.7 L1849.3 970.3 L1855.0 968.8 L1860.6 970.3 L1866.2 970.8 L1883.1 974.2 L1888.8 972.7 L1894.4 971.9 L1900.0 969.3 L1905.7 971.4 L1922.6 971.9 L1928.2 970.3 L1933.9 969.6 L1939.5 968.8 L1945.1 965.7 L1962.0 962.6 L1967.7 963.0 L1973.3 963.7 L1979.0 965.7 L1984.6 964.1 L2001.5 962.1 L2007.1 960.6 L2012.8 960.6 L2018.4 957.9 L2024.0 957.1 L2041.0 956.1 L2046.6 970.3 L2097.3 972.7 L2102.9 968.8 L2119.9 969.6 L2125.5 970.3 L2131.1 971.1 L2136.8 978.1 L2142.4 979.2 L2159.3 976.6 L2164.9 980.4 L2170.6 980.1 L2176.2 977.0 L2181.9 978.1 L2198.8 976.1 L2204.4 977.6 L2210.0 971.9 L2215.7 972.7 L2221.3 975.8 L2238.2 981.2 L2243.9 975.5 L2249.5 979.7 L2255.1 981.2 L2260.8 982.8 L2277.7 979.7 L2283.3 977.6 L2288.9 977.3 L2294.6 973.4 L2300.2 977.0 L2317.1 975.0 L2322.8 981.2 L2328.4 980.4 L2334.0 976.6 L2339.7 980.4 L2356.6 975.0 L2362.2 978.9 L2367.9 982.8 L2373.5 985.4 L2379.1 984.3 L2396.0 983.9 L2401.7 986.3 L2407.3 986.3 L2412.9 980.1 L2418.6 987.9 L2435.5 980.7 L2441.1 980.1 L2446.8 979.7 L2452.4 980.1 L2458.0 982.0 L2474.9 980.4 L2480.6 982.0 L2486.2 975.5 L2491.9 981.7 L2497.5 982.3 L2514.4 983.9 L2520.0 981.2 L2525.7 978.1 L2531.3 979.7 L2536.9 982.0 L2553.9 977.3 L2559.5 979.7 L2565.1 983.2 L2593.3 983.9 L2598.9 985.1 L2604.6 983.5 L2610.2 979.2 L2615.9 979.7 L2632.8 978.6 L2638.4 986.3 L2644.0 981.7 L2649.7 983.2 L2655.3 985.4 L2672.2 982.0 L2677.9 982.0 L2683.5 977.6 L2689.1 982.0 L2694.8 983.2 L2711.7 984.8 L2717.3 971.4 L2722.9 975.0 L2728.6 977.0 L2734.2 973.9 L2751.1 975.0 L2756.8 972.7 L2762.4 974.2 L2768.0 972.7 L2773.7 976.1 L2790.6 972.7 L2796.2 971.1 L2801.9 971.1"/>
<path stroke="#e377c2" d="M519.1 1126.0 L524.8 1093.4 L541.7 1072.1 L547.3 1087.3 L553.0 1111.2 L558.6 1147.0 L564.2 1160.9 L581.1 1139.2 L586.8 1132.2 L592.4 1149.3 L598.0 1167.1 L603.7 1180.8 L620.6 1176.5 L626.2 1213.7 L631.9 1223.0 L637.5 1224.6 L643.1 1209.1 L660.0 1214.5 L710.8 1185.5 L716.4 1197.4 L722.0 1206.7 L739.0 1219.9 L744.6 1238.8 L750.2 1245.0 L755.9 1258.2 L761.5 1243.5 L778.4 1246.6 L784.0 1266.8 L789.7 1249.7 L795.3 1280.7 L801.0 1276.1 L817.9 1288.5 L823.5 1292.4 L829.1 1293.2 L834.8 1291.6 L840.4 1305.6 L857.3 1259.8 L863.0 1240.4 L868.6 1243.5 L874.2 1269.9 L879.9 1299.4 L896.8 1306.1 L902.4 1322.4 L908.0 1337.9 L913.7 1341.0 L919.3 1321.6 L936.2 1327.0 L941.9 1342.4 L947.5 1357.9 L953.1 1356.4 L958.8 1331.7 L975.7 1313.8 L981.3 1313.8 L987.0 1313.8 L992.6 1307.6 L998.2 1312.3 L1015.1 1289.8 L1020.8 1327.0 L1026.4 1309.9 L1032.0 1317.7 L1054.6 1309.2 L1060.2 1272.7 L1065.9 1240.1 L1071.5 1208.2 L1077.1 1213.7 L1094.0 1219.9 L1099.7 1248.6 L1105.3 1244.7 L1111.0 1252.5 L1116.6 1250.9 L1133.5 1233.1 L1139.1 1240.8 L1144.8 1226.9 L1150.4 1235.4 L1156.0 1210.6 L1173.0 1195.0 L1178.6 1205.9 L1184.2 1185.7 L1218.0 1170.5 L1223.7 1191.1 L1229.3 1188.8 L1235.0 1186.5 L1251.9 1171.0 L1257.5 1188.0 L1263.1 1199.7 L1268.8 1207.5 L1274.4 1213.7 L1291.3 1219.9 L1297.0 1213.7 L1302.6 1233.9 L1308.2 1252.5 L1313.9 1251.7 L1330.8 1240.8 L1336.4 1239.8 L1342.0 1227.6 L1347.7 1212.9 L1353.3 1208.7 L1375.9 1190.7 L1381.5 1181.8 L1387.1 1200.5 L1392.8 1238.2 L1409.7 1237.7 L1415.3 1238.5 L1421.0 1233.9 L1426.6 1231.5 L1432.2 1220.7 L1449.1 1206.7 L1454.8 1198.9 L1460.4 1189.6 L1466.0 1197.4 L1471.7 1183.9 L1488.6 1169.4 L1494.2 1187.0 L1499.9 1186.0 L1505.5 1184.9 L1511.1 1171.4 L1528.0 1174.8 L1533.7 1223.0 L1539.3 1225.3 L1545.0 1226.4 L1550.6 1231.5 L1567.5 1211.3 L1573.1 1208.7 L1578.8 1234.6 L1584.4 1250.9 L1590.0 1248.1 L1607.0 1257.1 L1612.6 1266.5 L1618.2 1264.6 L1623.9 1261.8 L1629.5 1258.7 L1646.4 1246.6 L1652.0 1247.5 L1657.7 1241.6 L1663.3 1238.8 L1669.0 1239.8 L1685.9 1233.1 L1691.5 1249.4 L1697.1 1264.6 L1702.8 1264.9 L1708.4 1251.7 L1725.3 1253.3 L1731.0 1277.0 L1736.6 1280.1 L1742.2 1292.9 L1747.9 1299.4 L1764.8 1287.9 L1770.4 1283.5 L1776.0 1278.1 L1781.7 1279.7 L1787.3 1274.2 L1804.2 1247.0 L1809.9 1262.6 L1815.5 1275.8 L1821.1 1277.0 L1826.8 1240.1 L1843.7 1240.5 L1849.3 1251.7 L1855.0 1252.0 L1860.6 1226.1 L1866.2 1226.9 L1883.1 1203.6 L1888.8 1205.9 L1894.4 1182.6 L1900.0 1123.4 L1905.7 1109.5 L1922.6 1149.1 L1928.2 1156.8 L1933.9 1187.0 L1939.5 1179.5 L1945.1 1200.5 L1962.0 1215.2 L1967.7 1206.7 L1973.3 1209.0 L1979.0 1198.1 L1984.6 1207.5 L2001.5 1153.7 L2007.1 1177.0 L2012.8 1150.3 L2018.4 1149.4 L2024.0 1151.4 L2041.0 1107.5 L2046.6 1121.4 L2097.3 1133.5 L2102.9 1188.8 L2119.9 1194.3 L2125.5 1197.4 L2131.1 1203.6 L2136.8 1181.1 L2142.4 1199.4 L2159.3 1181.1 L2164.9 1171.7 L2170.6 1146.9 L2176.2 1168.6 L2181.9 1179.8 L2198.8 1191.9 L2204.4 1209.3 L2210.0 1209.3 L2215.7 1221.7 L2221.3 1184.9 L2238.2 1159.6 L2243.9 1166.8 L2249.5 1143.8 L2255.1 1156.2 L2260.8 1195.0 L2277.7 1207.5 L2283.3 1113.4 L2288.9 1142.1 L2294.6 1129.7 L2300.2 1125.8 L2317.1 1130.4 L2322.8 1134.3 L2328.4 1133.2 L2334.0 1166.1 L2339.7 1150.6 L2356.6 1133.5 L2362.2 1090.1 L2367.9 1093.9 L2373.5 1093.5 L2379.1 1127.3 L2396.0 1110.6 L2401.7 1132.0 L2407.3 1147.5 L2412.9 1119.6 L2418.6 1088.8 L2435.5 1089.8 L2441.1 1127.3 L2446.8 1142.9 L2452.4 1159.9 L2458.0 1136.6 L2474.9 1124.2 L2480.6 1110.6 L2486.2 1114.1 L2491.9 1124.2 L2497.5 1128.9 L2514.4 1141.6 L2520.0 1176.7 L2525.7 1172.5 L2531.3 1172.2 L2536.9 1181.1 L2553.9 1206.7 L2559.5 1194.3 L2565.1 1188.0 L2593.3 1182.9 L2598.9 1181.1 L2604.6 1215.2 L2610.2 1248.6 L2615.9 1226.9 L2632.8 1227.3 L2638.4 1228.4 L2644.0 1211.3 L2649.7 1224.2 L2655.3 1207.8 L2672.2 1212.1 L2677.9 1171.7 L2683.5 1146.9 L2689.1 1139.8 L2694.8 1158.5 L2711.7 1216.8 L2717.3 1289.8 L2722.9 1268.0 L2728.6 1256.8 L2734.2 1296.7 L2751.1 1270.3 L2756.8 1242.9 L2762.4 1267.2 L2768.0 1261.8 L2773.7 1243.9 L2790.6 1210.6 L2796.2 1222.2 L2801.9 1232.0"/>
<path stroke="#7f7f7f" d="M519.1 987.4 L524.8 989.0 L541.7 979.7 L547.3 981.2 L553.0 983.9 L558.6 983.9 L564.2 984.3 L581.1 976.1 L586.8 973.4 L592.4 970.8 L598.0 975.0 L603.7 978.1 L620.6 981.2 L626.2 971.9 L631.9 971.1 L637.5 976.6 L643.1 969.3 L660.0 990.5 L710.8 975.0 L716.4 968.8 L722.0 969.6 L739.0 971.9 L744.6 966.8 L750.2 975.5 L755.9 968.8 L761.5 971.9 L778.4 972.4 L784.0 970.3 L789.7 969.9 L795.3 970.3 L801.0 969.9 L817.9 977.0 L823.5 971.9 L829.1 971.4 L834.8 971.4 L840.4 971.4 L857.3 971.9 L863.0 980.1 L868.6 970.8 L874.2 971.9 L879.9 973.8 L896.8 973.4 L902.4 972.4 L908.0 968.3 L913.7 970.3 L919.3 972.7 L936.2 978.1 L941.9 988.7 L947.5 973.4 L953.1 975.5 L958.8 978.9 L975.7 974.2 L981.3 989.0 L987.0 989.0 L992.6 981.2 L998.2 975.5 L1015.1 971.4 L1020.8 971.1 L1026.4 969.9 L1032.0 974.2 L1054.6 972.7 L1060.2 979.7 L1065.9 973.0 L1071.5 979.7 L1077.1 974.5 L1094.0 974.2 L1099.7 970.0 L1105.3 974.2 L1111.0 970.3 L1116.6 975.0 L1133.5 969.6 L1139.1 971.9 L1144.8 971.9 L1150.4 969.6 L1156.0 966.1 L1173.0 965.7 L1178.6 962.6 L1184.2 968.0 L1218.0 923.0 L1223.7 977.3 L1229.3 971.9 L1235.0 971.1 L1251.9 969.6 L1257.5 970.3 L1263.1 972.7 L1268.8 969.9 L1274.4 971.1 L1291.3 972.4 L1297.0 969.3 L1302.6 969.9 L1308.2 970.8 L1313.9 976.6 L1330.8 972.7 L1336.4 970.8 L1342.0 968.8 L1347.7 969.9 L1353.3 972.4 L1375.9 968.3 L1381.5 969.9 L1387.1 970.8 L1392.8 972.4 L1409.7 964.1 L1415.3 967.7 L1421.0 970.3 L1426.6 971.4 L1432.2 975.0 L1449.1 967.7 L1454.8 973.4 L1460.4 971.9 L1466.0 971.4 L1471.7 971.4 L1488.6 974.2 L1494.2 967.2 L1499.9 968.8 L1505.5 969.9 L1511.1 974.2 L1528.0 978.6 L1533.7 971.1 L1539.3 974.2 L1545.0 996.0 L1550.6 1017.7 L1567.5 1034.5 L1573.1 1035.6 L1578.8 999.8 L1584.4 964.1 L1590.0 964.9 L1607.0 964.1 L1612.6 966.1 L1618.2 964.1 L1623.9 964.1 L1629.5 966.1 L1646.4 971.4 L1652.0 968.8 L1657.7 969.9 L1663.3 966.8 L1669.0 968.0 L1685.9 971.1 L1691.5 970.3 L1697.1 976.1 L1702.8 966.1 L1708.4 969.3 L1725.3 968.0 L1731.0 973.4 L1736.6 972.4 L1742.2 971.9 L1747.9 975.5 L1764.8 964.6 L1770.4 971.1 L1776.0 966.5 L1781.7 969.9 L1787.3 970.3 L1804.2 970.3 L1809.9 974.2 L1815.5 980.1 L1821.1 978.9 L1826.8 975.0 L1843.7 977.0 L1849.3 971.9 L1855.0 965.7 L1860.6 965.7 L1866.2 966.5 L1883.1 973.9 L1888.8 970.3 L1894.4 971.9 L1900.0 982.8 L1905.7 1020.2 L1922.6 1024.5 L1928.2 1038.8 L1933.9 1046.6 L1939.5 1062.9 L1945.1 1066.8 L1962.0 968.2 L1967.7 1028.0 L1973.3 1018.3 L1979.0 1001.6 L1984.6 1034.2 L2001.5 1071.4 L2007.1 1062.4 L2012.8 1093.2 L2018.4 1077.6 L2024.0 1091.3 L2041.0 1131.2 L2046.6 1137.9 L2097.3 1111.8 L2102.9 1077.6 L2119.9 1069.1 L2125.5 985.2 L2131.1 1034.2 L2136.8 1039.1 L2142.4 1011.6 L2159.3 1030.3 L2164.9 1045.0 L2170.6 1047.4 L2176.2 1019.4 L2181.9 999.1 L2198.8 983.5 L2204.4 988.2 L2210.0 981.2 L2215.7 997.5 L2221.3 1041.9 L2238.2 1047.8 L2243.9 1034.9 L2249.5 1028.7 L2255.1 995.2 L2260.8 983.9 L2277.7 981.2 L2283.3 982.0 L2288.9 986.6 L2294.6 984.3 L2300.2 984.8 L2317.1 982.8 L2322.8 991.6 L2328.4 992.9 L2334.0 986.6 L2339.7 991.3 L2356.6 986.6 L2362.2 990.5 L2367.9 995.2 L2373.5 1003.0 L2379.1 991.6 L2396.0 995.2 L2401.7 994.4 L2407.3 996.0 L2412.9 991.6 L2418.6 1001.9 L2435.5 995.2 L2441.1 990.5 L2446.8 987.0 L2452.4 991.6 L2458.0 991.0 L2474.9 995.7 L2480.6 993.2 L2486.2 979.7 L2491.9 989.8 L2497.5 985.4 L2514.4 983.5 L2520.0 983.9 L2525.7 981.2 L2531.3 991.3 L2536.9 995.2 L2553.9 990.5 L2559.5 991.0 L2565.1 994.4 L2593.3 996.3 L2598.9 996.0 L2604.6 995.2 L2610.2 992.5 L2615.9 992.9 L2632.8 991.6 L2638.4 1006.1 L2644.0 1000.9 L2649.7 996.7 L2655.3 1005.0 L2672.2 1003.0 L2677.9 1001.4 L2683.5 991.0 L2689.1 992.9 L2694.8 989.4 L2711.7 987.4 L2717.3 969.9 L2722.9 980.4 L2728.6 989.8 L2734.2 976.1 L2751.1 977.3 L2756.8 975.0 L2762.4 975.5 L2768.0 975.5 L2773.7 985.1 L2790.6 1008.4 L2796.2 993.6 L2801.9 970.3"/>
<path stroke="#bcbd22" d="M519.1 289.3 L524.8 276.3 L541.7 289.8 L547.3 296.8 L553.0 279.2 L558.6 289.3 L564.2 275.5 L581.1 287.8 L586.8 306.1 L592.4 303.0 L598.0 286.2 L603.7 291.3 L620.6 284.7 L626.2 399.2 L631.9 584.0 L637.5 588.7 L643.1 575.5 L660.0 320.1 L710.8 398.0 L716.4 396.1 L722.0 393.0 L739.0 393.0 L744.6 391.5 L750.2 395.8 L755.9 392.3 L761.5 390.2 L778.4 394.1 L784.0 396.9 L789.7 392.6 L795.3 390.2 L801.0 391.5 L817.9 393.8 L823.5 391.2 L829.1 393.4 L834.8 393.8 L840.4 390.2 L857.3 398.2 L863.0 396.9 L868.6 391.0 L874.2 393.8 L879.9 388.7 L896.8 392.5 L902.4 392.5 L908.0 396.9 L913.7 396.9 L919.3 396.3 L936.2 387.3 L941.9 393.6 L947.5 396.3 L953.1 397.2 L958.8 392.7 L975.7 401.2 L981.3 394.7 L987.0 397.0 L992.6 391.1 L998.2 447.5 L1015.1 432.0 L1020.8 407.1 L1026.4 399.4 L1032.0 402.2 L1054.6 395.5 L1060.2 419.9 L1065.9 400.9 L1071.5 391.6 L1077.1 406.8 L1094.0 398.3 L1099.7 416.1 L1105.3 409.9 L1111.0 392.4 L1116.6 415.7 L1133.5 414.9 L1139.1 398.1 L1144.8 394.3 L1150.4 396.3 L1156.0 398.1 L1173.0 400.2 L1178.6 398.8 L1184.2 394.4 L1218.0 391.6 L1223.7 395.0 L1229.3 404.8 L1235.0 392.9 L1251.9 394.1 L1257.5 397.0 L1263.1 392.7 L1268.8 394.7 L1274.4 393.5 L1291.3 393.6 L1297.0 394.7 L1302.6 394.4 L1308.2 396.7 L1313.9 393.9 L1330.8 392.7 L1336.4 392.9 L1342.0 398.9 L1347.7 397.8 L1353.3 395.8 L1375.9 395.8 L1381.5 395.8 L1387.1 394.4 L1392.8 396.3 L1409.7 410.2 L1415.3 399.4 L1421.0 397.5 L1426.6 393.6 L1432.2 391.6 L1449.1 393.9 L1454.8 392.4 L1460.4 391.6 L1466.0 393.5 L1471.7 393.5 L1488.6 391.9 L1494.2 392.4 L1499.9 390.1 L1505.5 392.9 L1511.1 388.8 L1528.0 391.1 L1533.7 392.9 L1539.3 392.9 L1545.0 392.4 L1550.6 391.6 L1567.5 400.9 L1573.1 397.5 L1578.8 399.1 L1584.4 400.5 L1590.0 400.9 L1607.0 397.0 L1612.6 473.9 L1618.2 397.0 L1623.9 398.1 L1629.5 399.4 L1646.4 401.7 L1652.0 398.3 L1657.7 397.8 L1663.3 399.4 L1669.0 397.0 L1685.9 394.4 L1691.5 394.7 L1697.1 392.9 L1702.8 393.9 L1708.4 394.7 L1725.3 396.3 L1731.0 391.3 L1736.6 390.7 L1742.2 390.4 L1747.9 389.6 L1764.8 394.3 L1770.4 392.4 L1776.0 390.4 L1781.7 393.6 L1787.3 392.9 L1804.2 392.9 L1809.9 396.3 L1815.5 391.9 L1821.1 387.7 L1826.8 397.8 L1843.7 393.2 L1849.3 415.7 L1855.0 408.2 L1860.6 432.3 L1866.2 416.5 L1883.1 430.4 L1888.8 395.8 L1894.4 393.6 L1900.0 388.8 L1905.7 392.7 L1922.6 392.9 L1928.2 392.9 L1933.9 391.8 L1939.5 393.9 L1945.1 391.9 L1962.0 408.4 L1967.7 399.1 L1973.3 403.6 L1979.0 399.1 L1984.6 402.2 L2001.5 403.7 L2007.1 412.1 L2012.8 408.7 L2018.4 417.5 L2024.0 416.1 L2041.0 416.1 L2046.6 385.9 L2097.3 392.7 L2102.9 391.9 L2119.9 478.6 L2125.5 391.3 L2131.1 391.6 L2136.8 278.4 L2142.4 262.9 L2159.3 297.0 L2164.9 275.0 L2170.6 264.1 L2176.2 269.1 L2181.9 273.8 L2198.8 272.7 L2204.4 266.8 L2210.0 323.4 L2215.7 287.0 L2221.3 320.8 L2238.2 287.3 L2243.9 310.6 L2249.5 271.7 L2255.1 297.8 L2260.8 302.5 L2277.7 316.1 L2283.3 283.9 L2288.9 280.4 L2294.6 283.9 L2300.2 295.5 L2317.1 299.1 L2322.8 276.6 L2328.4 275.6 L2334.0 289.0 L2339.7 285.4 L2356.6 282.3 L2362.2 291.1 L2367.9 280.7 L2373.5 281.5 L2379.1 280.3 L2396.0 308.4 L2401.7 285.9 L2407.3 291.6 L2412.9 293.2 L2418.6 264.0 L2435.5 299.1 L2441.1 297.0 L2446.8 289.6 L2452.4 293.2 L2458.0 300.9 L2474.9 281.5 L2480.6 273.0 L2486.2 285.1 L2491.9 288.5 L2497.5 299.1 L2514.4 295.0 L2520.0 308.2 L2525.7 297.5 L2531.3 267.1 L2536.9 276.9 L2553.9 290.5 L2559.5 278.4 L2565.1 310.6 L2593.3 277.2 L2598.9 288.0 L2604.6 278.1 L2610.2 295.5 L2615.9 297.8 L2632.8 312.1 L2638.4 276.6 L2644.0 290.5 L2649.7 303.3 L2655.3 284.3 L2672.2 292.4 L2677.9 359.6 L2683.5 250.5 L2689.1 259.8 L2694.8 266.8 L2711.7 280.0 L2717.3 393.7 L2722.9 307.1 L2728.6 285.1 L2734.2 393.3 L2751.1 391.6 L2756.8 395.3 L2762.4 392.5 L2768.0 393.5 L2773.7 393.3 L2790.6 402.7 L2796.2 389.7 L2801.9 392.8"/>
<path stroke="#17becf" d="M519.1 1038.5 L524.8 1028.3 L541.7 1052.5 L547.3 1043.5 L553.0 1040.7 L558.6 1045.8 L564.2 1042.7 L581.1 1045.0 L586.8 1029.5 L592.4 1030.3 L598.0 1017.9 L603.7 1026.4 L620.6 1017.1 L626.2 1038.0 L631.9 1042.7 L637.5 1049.4 L643.1 1049.7 L660.0 1059.8 L710.8 1063.7 L716.4 1093.2 L722.0 1089.3 L739.0 1096.0 L744.6 1119.6 L750.2 1121.9 L755.9 1125.8 L761.5 1123.4 L778.4 1107.1 L784.0 1103.7 L789.7 1108.7 L795.3 1086.2 L801.0 1096.0 L817.9 1082.3 L823.5 1093.2 L829.1 1074.5 L834.8 1080.0 L840.4 1073.0 L857.3 1082.0 L863.0 1059.0 L868.6 1049.4 L874.2 1041.1 L879.9 1024.8 L896.8 1025.6 L902.4 1043.5 L908.0 1061.3 L913.7 1064.1 L919.3 1058.7 L936.2 1064.9 L941.9 1032.9 L947.5 1026.7 L953.1 1041.1 L958.8 1055.1 L975.7 1047.4 L981.3 1043.2 L987.0 1034.5 L992.6 1034.5 L998.2 1034.2 L1015.1 1033.9 L1020.8 1035.4 L1026.4 1023.3 L1032.0 1039.3 L1054.6 1034.5 L1060.2 1045.0 L1065.9 1059.8 L1071.5 1059.8 L1077.1 1066.5 L1094.0 1052.0 L1099.7 1038.0 L1105.3 1028.4 L1111.0 1024.8 L1116.6 1030.3 L1133.5 1041.1 L1139.1 1043.5 L1144.8 1057.5 L1150.4 1045.8 L1156.0 1037.7 L1173.0 1049.7 L1178.6 1053.6 L1184.2 1052.5 L1218.0 1028.7 L1223.7 1045.0 L1229.3 1052.8 L1235.0 1054.7 L1251.9 1050.5 L1257.5 1062.9 L1263.1 1067.1 L1268.8 1066.8 L1274.4 1058.2 L1291.3 1046.3 L1297.0 1051.2 L1302.6 1061.3 L1308.2 1062.4 L1313.9 1050.0 L1330.8 1049.7 L1336.4 1028.0 L1342.0 1030.3 L1347.7 1018.3 L1353.3 1037.7 L1375.9 1038.0 L1381.5 1038.8 L1387.1 1049.7 L1392.8 1062.9 L1409.7 1062.6 L1415.3 1063.4 L1421.0 1071.4 L1426.6 1080.4 L1432.2 1073.0 L1449.1 1044.7 L1454.8 1056.7 L1460.4 1067.5 L1466.0 1065.2 L1471.7 1066.8 L1488.6 1073.8 L1494.2 1081.5 L1499.9 1095.0 L1505.5 1092.4 L1511.1 1089.8 L1528.0 1080.7 L1533.7 1080.0 L1539.3 1076.1 L1545.0 1084.6 L1550.6 1086.2 L1567.5 1084.6 L1573.1 1077.3 L1578.8 1076.4 L1584.4 1072.2 L1590.0 1082.3 L1607.0 1086.2 L1612.6 1090.8 L1618.2 1093.9 L1623.9 1076.9 L1629.5 1080.4 L1646.4 1083.9 L1652.0 1072.7 L1657.7 1076.1 L1663.3 1075.8 L1669.0 1061.8 L1685.9 1061.8 L1691.5 1070.7 L1697.1 1061.3 L1702.8 1079.2 L1708.4 1072.2 L1725.3 1066.5 L1731.0 1065.5 L1736.6 1065.8 L1742.2 1080.7 L1747.9 1094.4 L1764.8 1090.1 L1770.4 1070.2 L1776.0 1068.0 L1781.7 1074.2 L1787.3 1080.4 L1804.2 1086.2 L1809.9 1080.0 L1815.5 1081.5 L1821.1 1073.3 L1826.8 1079.2 L1843.7 1048.1 L1849.3 1051.2 L1855.0 1048.1 L1860.6 1038.5 L1866.2 1052.0 L1883.1 1037.7 L1888.8 1050.0 L1894.4 1042.7 L1900.0 1082.3 L1905.7 1055.1 L1922.6 1054.3 L1928.2 1054.7 L1933.9 1058.7 L1939.5 1050.5 L1945.1 1043.5 L1962.0 1029.5 L1967.7 1031.8 L1973.3 1038.8 L1979.0 1037.7 L1984.6 1003.4 L2001.5 999.2 L2007.1 1011.2 L2012.8 1009.6 L2018.4 1003.1 L2024.0 997.7 L2041.0 1008.5 L2046.6 987.6 L2097.3 998.3 L2102.9 1005.3 L2119.9 1020.8 L2125.5 1021.6 L2131.1 996.7 L2136.8 996.7 L2142.4 998.3 L2159.3 986.3 L2164.9 991.6 L2170.6 995.2 L2176.2 1019.3 L2181.9 1011.5 L2198.8 1012.7 L2204.4 1018.5 L2210.0 1027.0 L2215.7 1050.0 L2221.3 1024.2 L2238.2 1019.3 L2243.9 1020.0 L2249.5 1005.3 L2255.1 1037.9 L2260.8 1039.8 L2277.7 1039.8 L2283.3 997.5 L2288.9 1023.1 L2294.6 1019.3 L2300.2 1031.7 L2317.1 1027.0 L2322.8 1050.5 L2328.4 1046.6 L2334.0 1034.9 L2339.7 1034.5 L2356.6 1045.0 L2362.2 1037.3 L2367.9 1036.5 L2373.5 1030.3 L2379.1 1053.6 L2396.0 1059.8 L2401.7 1062.1 L2407.3 1067.5 L2412.9 1054.3 L2418.6 1048.9 L2435.5 1057.5 L2441.1 1078.4 L2446.8 1077.6 L2452.4 1074.5 L2458.0 1043.2 L2474.9 1032.3 L2480.6 1049.7 L2486.2 1067.5 L2491.9 1074.5 L2497.5 1100.6 L2514.4 1098.6 L2520.0 1088.5 L2525.7 1084.6 L2531.3 1079.2 L2536.9 1090.4 L2553.9 1083.1 L2559.5 1083.9 L2565.1 1087.3 L2593.3 1096.3 L2598.9 1097.8 L2604.6 1092.9 L2610.2 1068.3 L2615.9 1061.3 L2632.8 1050.5 L2638.4 1042.2 L2644.0 1041.1 L2649.7 1060.2 L2655.3 1060.2 L2672.2 1059.8 L2677.9 1026.4 L2683.5 1002.8 L2689.1 1003.4 L2694.8 991.5 L2711.7 1007.5 L2717.3 1015.5 L2722.9 1007.8 L2728.6 1016.3 L2734.2 1036.5 L2751.1 1037.0 L2756.8 1028.0 L2762.4 1045.3 L2768.0 1048.1 L2773.7 1048.9 L2790.6 1045.8 L2796.2 1053.6 L2801.9 1067.1"/>
</g>
<rect x="405" y="194" width="2511" height="1248" fill="none" stroke="#000" stroke-width="2"/>
<g stroke="#000" stroke-width="2" fill="none">
<path d="M514 1441.8 V1450.55"/>
<path d="M846 1441.8 V1450.55"/>
<path d="M1190 1441.8 V1450.55"/>
<path d="M1534 1441.8 V1450.55"/>
<path d="M1883 1441.8 V1450.55"/>
<path d="M2227 1441.8 V1450.55"/>
<path d="M2571 1441.8 V1450.55"/>
<path d="M2903 1441.8 V1450.55"/>
<path d="M405 252 H396.25"/>
<path d="M405 396 H396.25"/>
<path d="M405 539 H396.25"/>
<path d="M405 682 H396.25"/>
<path d="M405 826 H396.25"/>
<path d="M405 969 H396.25"/>
<path d="M405 1113 H396.25"/>
<path d="M405 1256 H396.25"/>
<path d="M405 1400 H396.25"/>
</g>
<g>
<text y="1475.90" font-size="25px" text-anchor="middle" fill="#000" xml:space="preserve"><tspan x="475.05" font-size="23.60px" textLength="12.08" lengthAdjust="spacingAndGlyphs">2</tspan><tspan x="487.55" font-size="23.60px" textLength="12.08" lengthAdjust="spacingAndGlyphs">0</tspan><tspan x="500.05" font-size="23.60px" textLength="12.08" lengthAdjust="spacingAndGlyphs">2</tspan><tspan x="512.55" font-size="23.60px" textLength="12.08" lengthAdjust="spacingAndGlyphs">5</tspan><tspan x="525.05" font-size="23.60px">−</tspan><tspan x="537.55" font-size="23.60px" textLength="12.08" lengthAdjust="spacingAndGlyphs">0</tspan><tspan x="550.05" font-size="23.60px" textLength="12.08" lengthAdjust="spacingAndGlyphs">1</tspan></text>
<text y="1475.90" font-size="25px" text-anchor="middle" fill="#000" xml:space="preserve"><tspan x="807.60" font-size="23.60px" textLength="12.08" lengthAdjust="spacingAndGlyphs">2</tspan><tspan x="820.10" font-size="23.60px" textLength="12.08" lengthAdjust="spacingAndGlyphs">0</tspan><tspan x="832.60" font-size="23.60px" textLength="12.08" lengthAdjust="spacingAndGlyphs">2</tspan><tspan x="845.10" font-size="23.60px" textLength="12.08" lengthAdjust="spacingAndGlyphs">5</tspan><tspan x="857.60" font-size="23.60px">−</tspan><tspan x="870.10" font-size="23.60px" textLength="12.08" lengthAdjust="spacingAndGlyphs">0</tspan><tspan x="882.60" font-size="23.60px" textLength="12.08" lengthAdjust="spacingAndGlyphs">3</tspan></text>
<text y="1475.90" font-size="25px" text-anchor="middle" fill="#000" xml:space="preserve"><tspan x="1151.41" font-size="23.60px" textLength="12.08" lengthAdjust="spacingAndGlyphs">2</tspan><tspan x="1163.91" font-size="23.60px" textLength="12.08" lengthAdjust="spacingAndGlyphs">0</tspan><tspan x="1176.41" font-size="23.60px" textLength="12.08" lengthAdjust="spacingAndGlyphs">2</tspan><tspan x="1188.91" font-size="23.60px" textLength="12.08" lengthAdjust="spacingAndGlyphs">5</tspan><tspan x="1201.41" font-size="23.60px">−</tspan><tspan x="1213.91" font-size="23.60px" textLength="12.08" lengthAdjust="spacingAndGlyphs">0</tspan><tspan x="1226.41" font-size="23.60px" textLength="12.08" lengthAdjust="spacingAndGlyphs">5</tspan></text>
<text y="1475.90" font-size="25px" text-anchor="middle" fill="#000" xml:space="preserve"><tspan x="1495.23" font-size="23.60px" textLength="12.08" lengthAdjust="spacingAndGlyphs">2</tspan><tspan x="1507.73" font-size="23.60px" textLength="12.08" lengthAdjust="spacingAndGlyphs">0</tspan><tspan x="1520.23" font-size="23.60px" textLength="12.08" lengthAdjust="spacingAndGlyphs">2</tspan><tspan x="1532.73" font-size="23.60px" textLength="12.08" lengthAdjust="spacingAndGlyphs">5</tspan><tspan x="1545.23" font-size="23.60px">−</tspan><tspan x="1557.73" font-size="23.60px" textLength="12.08" lengthAdjust="spacingAndGlyphs">0</tspan><tspan x="1570.23" font-size="23.60px" textLength="12.08" lengthAdjust="spacingAndGlyphs">7</tspan></text>
<text y="1475.90" font-size="25px" text-anchor="middle" fill="#000" xml:space="preserve"><tspan x="1844.69" font-size="23.60px" textLength="12.08" lengthAdjust="spacingAndGlyphs">2</tspan><tspan x="1857.19" font-size="23.60px" textLength="12.08" lengthAdjust="spacingAndGlyphs">0</tspan><tspan x="1869.69" font-size="23.60px" textLength="12.08" lengthAdjust="spacingAndGlyphs">2</tspan><tspan x="1882.19" font-size="23.60px" textLength="12.08" lengthAdjust="spacingAndGlyphs">5</tspan><tspan x="1894.69" font-size="23.60px">−</tspan><tspan x="1907.19" font-size="23.60px" textLength="12.08" lengthAdjust="spacingAndGlyphs">0</tspan><tspan x="1919.69" font-size="23.60px" textLength="12.08" lengthAdjust="spacingAndGlyphs">9</tspan></text>
<text y="1475.90" font-size="25px" text-anchor="middle" fill="#000" xml:space="preserve"><tspan x="2188.50" font-size="23.60px" textLength="12.08" lengthAdjust="spacingAndGlyphs">2</tspan><tspan x="2201.00" font-size="23.60px" textLength="12.08" lengthAdjust="spacingAndGlyphs">0</tspan><tspan x="2213.50" font-size="23.60px" textLength="12.08" lengthAdjust="spacingAndGlyphs">2</tspan><tspan x="2226.00" font-size="23.60px" textLength="12.08" lengthAdjust="spacingAndGlyphs">5</tspan><tspan x="2238.50" font-size="23.60px">−</tspan><tspan x="2251.00" font-size="23.60px" textLength="12.08" lengthAdjust="spacingAndGlyphs">1</tspan><tspan x="2263.50" font-size="23.60px" textLength="12.08" lengthAdjust="spacingAndGlyphs">1</tspan></text>
<text y="1475.90" font-size="25px" text-anchor="middle" fill="#000" xml:space="preserve"><tspan x="2532.32" font-size="23.60px" textLength="12.08" lengthAdjust="spacingAndGlyphs">2</tspan><tspan x="2544.82" font-size="23.60px" textLength="12.08" lengthAdjust="spacingAndGlyphs">0</tspan><tspan x="2557.32" font-size="23.60px" textLength="12.08" lengthAdjust="spacingAndGlyphs">2</tspan><tspan x="2569.82" font-size="23.60px" textLength="12.08" lengthAdjust="spacingAndGlyphs">6</tspan><tspan x="2582.32" font-size="23.60px">−</tspan><tspan x="2594.82" font-size="23.60px" textLength="12.08" lengthAdjust="spacingAndGlyphs">0</tspan><tspan x="2607.32" font-size="23.60px" textLength="12.08" lengthAdjust="spacingAndGlyphs">1</tspan></text>
<text y="1475.90" font-size="25px" text-anchor="middle" fill="#000" xml:space="preserve"><tspan x="2864.87" font-size="23.60px" textLength="12.08" lengthAdjust="spacingAndGlyphs">2</tspan><tspan x="2877.37" font-size="23.60px" textLength="12.08" lengthAdjust="spacingAndGlyphs">0</tspan><tspan x="2889.87" font-size="23.60px" textLength="12.08" lengthAdjust="spacingAndGlyphs">2</tspan><tspan x="2902.37" font-size="23.60px" textLength="12.08" lengthAdjust="spacingAndGlyphs">6</tspan><tspan x="2914.87" font-size="23.60px">−</tspan><tspan x="2927.37" font-size="23.60px" textLength="12.08" lengthAdjust="spacingAndGlyphs">0</tspan><tspan x="2939.87" font-size="23.60px" textLength="12.08" lengthAdjust="spacingAndGlyphs">3</tspan></text>
<text y="260.30" font-size="25px" text-anchor="middle" fill="#000" xml:space="preserve"><tspan x="343.15" font-size="23.60px" textLength="12.08" lengthAdjust="spacingAndGlyphs">1</tspan><tspan x="353.45" font-size="23.60px">.</tspan><tspan x="368.15" font-size="23.60px" textLength="12.08" lengthAdjust="spacingAndGlyphs">2</tspan><tspan x="380.65" font-size="23.60px" textLength="12.08" lengthAdjust="spacingAndGlyphs">5</tspan></text>
<text y="404.30" font-size="25px" text-anchor="middle" fill="#000" xml:space="preserve"><tspan x="343.15" font-size="23.60px" textLength="12.08" lengthAdjust="spacingAndGlyphs">1</tspan><tspan x="353.45" font-size="23.60px">.</tspan><tspan x="368.15" font-size="23.60px" textLength="12.08" lengthAdjust="spacingAndGlyphs">0</tspan><tspan x="380.65" font-size="23.60px" textLength="12.08" lengthAdjust="spacingAndGlyphs">0</tspan></text>
<text y="547.30" font-size="25px" text-anchor="middle" fill="#000" xml:space="preserve"><tspan x="343.15" font-size="23.60px" textLength="12.08" lengthAdjust="spacingAndGlyphs">0</tspan><tspan x="353.45" font-size="23.60px">.</tspan><tspan x="368.15" font-size="23.60px" textLength="12.08" lengthAdjust="spacingAndGlyphs">7</tspan><tspan x="380.65" font-size="23.60px" textLength="12.08" lengthAdjust="spacingAndGlyphs">5</tspan></text>
<text y="690.30" font-size="25px" text-anchor="middle" fill="#000" xml:space="preserve"><tspan x="343.15" font-size="23.60px" textLength="12.08" lengthAdjust="spacingAndGlyphs">0</tspan><tspan x="353.45" font-size="23.60px">.</tspan><tspan x="368.15" font-size="23.60px" textLength="12.08" lengthAdjust="spacingAndGlyphs">5</tspan><tspan x="380.65" font-size="23.60px" textLength="12.08" lengthAdjust="spacingAndGlyphs">0</tspan></text>
<text y="834.30" font-size="25px" text-anchor="middle" fill="#000" xml:space="preserve"><tspan x="343.15" font-size="23.60px" textLength="12.08" lengthAdjust="spacingAndGlyphs">0</tspan><tspan x="353.45" font-size="23.60px">.</tspan><tspan x="368.15" font-size="23.60px" textLength="12.08" lengthAdjust="spacingAndGlyphs">2</tspan><tspan x="380.65" font-size="23.60px" textLength="12.08" lengthAdjust="spacingAndGlyphs">5</tspan></text>
<text y="977.30" font-size="25px" text-anchor="middle" fill="#000" xml:space="preserve"><tspan x="343.15" font-size="23.60px" textLength="12.08" lengthAdjust="spacingAndGlyphs">0</tspan><tspan x="353.45" font-size="23.60px">.</tspan><tspan x="368.15" font-size="23.60px" textLength="12.08" lengthAdjust="spacingAndGlyphs">0</tspan><tspan x="380.65" font-size="23.60px" textLength="12.08" lengthAdjust="spacingAndGlyphs">0</tspan></text>
<text y="1121.30" font-size="25px" text-anchor="middle" fill="#000" xml:space="preserve"><tspan x="330.65" font-size="23.60px">−</tspan><tspan x="343.15" font-size="23.60px" textLength="12.08" lengthAdjust="spacingAndGlyphs">0</tspan><tspan x="353.45" font-size="23.60px">.</tspan><tspan x="368.15" font-size="23.60px" textLength="12.08" lengthAdjust="spacingAndGlyphs">2</tspan><tspan x="380.65" font-size="23.60px" textLength="12.08" lengthAdjust="spacingAndGlyphs">5</tspan></text>
<text y="1264.30" font-size="25px" text-anchor="middle" fill="#000" xml:space="preserve"><tspan x="330.65" font-size="23.60px">−</tspan><tspan x="343.15" font-size="23.60px" textLength="12.08" lengthAdjust="spacingAndGlyphs">0</tspan><tspan x="353.45" font-size="23.60px">.</tspan><tspan x="368.15" font-size="23.60px" textLength="12.08" lengthAdjust="spacingAndGlyphs">5</tspan><tspan x="380.65" font-size="23.60px" textLength="12.08" lengthAdjust="spacingAndGlyphs">0</tspan></text>
<text y="1408.30" font-size="25px" text-anchor="middle" fill="#000" xml:space="preserve"><tspan x="330.65" font-size="23.60px">−</tspan><tspan x="343.15" font-size="23.60px" textLength="12.08" lengthAdjust="spacingAndGlyphs">0</tspan><tspan x="353.45" font-size="23.60px">.</tspan><tspan x="368.15" font-size="23.60px" textLength="12.08" lengthAdjust="spacingAndGlyphs">7</tspan><tspan x="380.65" font-size="23.60px" textLength="12.08" lengthAdjust="spacingAndGlyphs">5</tspan></text>
</g>
<text y="178.90" font-size="30px" text-anchor="middle" fill="#000" xml:space="preserve"><tspan x="1165.00 1195.00" y="180.40" style="font-family:'Liberation Sans', 'Noto Sans CJK SC', sans-serif;font-weight:500">每日</tspan><tspan y="178.90"><tspan x="1217.50" font-size="28.50px" font-weight="700" textLength="16.47" lengthAdjust="spacingAndGlyphs">B</tspan><tspan x="1232.50" font-size="28.50px" font-weight="700" textLength="15.23" lengthAdjust="spacingAndGlyphs">A</tspan><tspan x="1247.50" font-size="28.50px" font-weight="700" textLength="14.82" lengthAdjust="spacingAndGlyphs">R</tspan><tspan x="1262.50" font-size="28.50px" font-weight="700" textLength="14.82" lengthAdjust="spacingAndGlyphs">R</tspan><tspan x="1277.50" font-size="28.50px" font-weight="700" textLength="15.23" lengthAdjust="spacingAndGlyphs">A</tspan></tspan><tspan x="1300.00 1330.00 1360.00 1390.00 1420.00 1450.00" y="180.40" style="font-family:'Liberation Sans', 'Noto Sans CJK SC', sans-serif;font-weight:500">超额风险暴露</tspan><tspan y="178.90"><tspan x="1468.75" font-size="28.32px">,</tspan><tspan x="1487.50"> </tspan><tspan x="1505.20" font-size="28.32px">(</tspan><tspan x="1517.50" font-size="28.32px" textLength="14.49" lengthAdjust="spacingAndGlyphs">2</tspan><tspan x="1532.50" font-size="28.32px" textLength="14.49" lengthAdjust="spacingAndGlyphs">0</tspan><tspan x="1547.50" font-size="28.32px" textLength="14.49" lengthAdjust="spacingAndGlyphs">2</tspan><tspan x="1562.50" font-size="28.32px" textLength="14.49" lengthAdjust="spacingAndGlyphs">5</tspan><tspan x="1577.50" font-size="28.32px" textLength="14.49" lengthAdjust="spacingAndGlyphs">0</tspan><tspan x="1592.50" font-size="28.32px" textLength="14.49" lengthAdjust="spacingAndGlyphs">1</tspan><tspan x="1607.50" font-size="28.32px" textLength="14.49" lengthAdjust="spacingAndGlyphs">0</tspan><tspan x="1622.50" font-size="28.32px" textLength="14.49" lengthAdjust="spacingAndGlyphs">2</tspan><tspan x="1633.75" font-size="28.32px">,</tspan><tspan x="1652.50" font-size="28.32px" textLength="14.49" lengthAdjust="spacingAndGlyphs">2</tspan><tspan x="1667.50" font-size="28.32px" textLength="14.49" lengthAdjust="spacingAndGlyphs">0</tspan><tspan x="1682.50" font-size="28.32px" textLength="14.49" lengthAdjust="spacingAndGlyphs">2</tspan><tspan x="1697.50" font-size="28.32px" textLength="14.49" lengthAdjust="spacingAndGlyphs">6</tspan><tspan x="1712.50" font-size="28.32px" textLength="14.49" lengthAdjust="spacingAndGlyphs">0</tspan><tspan x="1727.50" font-size="28.32px" textLength="14.49" lengthAdjust="spacingAndGlyphs">2</tspan><tspan x="1742.50" font-size="28.32px" textLength="14.49" lengthAdjust="spacingAndGlyphs">1</tspan><tspan x="1757.50" font-size="28.32px" textLength="14.49" lengthAdjust="spacingAndGlyphs">1</tspan><tspan x="1769.80" font-size="28.32px">)</tspan><tspan x="1783.75" font-size="28.32px">,</tspan><tspan x="1802.50"> </tspan><tspan x="1817.50"> </tspan></tspan><tspan x="1840.00 1870.00 1900.00 1930.00 1960.00 1990.00 2020.00 2050.00 2080.00 2110.00 2140.00" y="180.40" style="font-family:'Liberation Sans', 'Noto Sans CJK SC', sans-serif;font-weight:500">数值表示日：区间平均值</tspan></text>
<g>
<rect x="418.5" y="1084.5" width="427" height="345" rx="5" ry="5" fill="#ffffff" fill-opacity="0.8" stroke="#cccccc" stroke-opacity="0.8" stroke-width="2.5"/>
<path d="M426.1 1103 H479.85" stroke="#1f77b4" stroke-width="4" fill="none"/>
<text y="1111.00" font-size="25px" text-anchor="middle" fill="#000" xml:space="preserve"><tspan x="504.15" font-size="21.50px">s</tspan><tspan x="516.65" font-size="21.50px">i</tspan><tspan x="529.15" font-size="21.50px">z</tspan><tspan x="541.65" font-size="21.50px">e</tspan><tspan x="554.15" font-size="23.60px">:</tspan><tspan x="566.65"> </tspan><tspan x="579.15" font-size="23.60px" textLength="12.08" lengthAdjust="spacingAndGlyphs">0</tspan><tspan x="589.45" font-size="23.60px">.</tspan><tspan x="604.15" font-size="23.60px" textLength="12.08" lengthAdjust="spacingAndGlyphs">0</tspan><tspan x="616.65" font-size="23.60px" textLength="12.08" lengthAdjust="spacingAndGlyphs">4</tspan><tspan x="629.15" font-size="23.60px" textLength="12.08" lengthAdjust="spacingAndGlyphs">8</tspan><tspan x="641.65" font-size="23.60px" textLength="12.08" lengthAdjust="spacingAndGlyphs">7</tspan><tspan x="654.15" font-size="23.60px" textLength="12.08" lengthAdjust="spacingAndGlyphs">8</tspan></text>
<path d="M426.1 1137 H479.85" stroke="#ff7f0e" stroke-width="4" fill="none"/>
<text y="1145.00" font-size="25px" text-anchor="middle" fill="#000" xml:space="preserve"><tspan x="504.15" font-size="21.50px">b</tspan><tspan x="516.65" font-size="21.50px">e</tspan><tspan x="529.15" font-size="21.50px" textLength="7.17" lengthAdjust="spacingAndGlyphs">t</tspan><tspan x="541.65" font-size="21.50px">a</tspan><tspan x="554.15" font-size="23.60px">:</tspan><tspan x="566.65"> </tspan><tspan x="579.15" font-size="23.60px">−</tspan><tspan x="591.65" font-size="23.60px" textLength="12.08" lengthAdjust="spacingAndGlyphs">0</tspan><tspan x="601.95" font-size="23.60px">.</tspan><tspan x="616.65" font-size="23.60px" textLength="12.08" lengthAdjust="spacingAndGlyphs">0</tspan><tspan x="629.15" font-size="23.60px" textLength="12.08" lengthAdjust="spacingAndGlyphs">4</tspan><tspan x="641.65" font-size="23.60px" textLength="12.08" lengthAdjust="spacingAndGlyphs">4</tspan><tspan x="654.15" font-size="23.60px" textLength="12.08" lengthAdjust="spacingAndGlyphs">6</tspan></text>
<path d="M426.1 1170 H479.85" stroke="#2ca02c" stroke-width="4" fill="none"/>
<text y="1178.00" font-size="25px" text-anchor="middle" fill="#000" xml:space="preserve"><tspan x="504.15" font-size="21.50px" textLength="13.97" lengthAdjust="spacingAndGlyphs">m</tspan><tspan x="516.65" font-size="21.50px">o</tspan><tspan x="529.15" font-size="21.50px" textLength="13.97" lengthAdjust="spacingAndGlyphs">m</tspan><tspan x="541.65" font-size="21.50px">e</tspan><tspan x="554.15" font-size="21.50px">n</tspan><tspan x="566.65" font-size="21.50px" textLength="7.17" lengthAdjust="spacingAndGlyphs">t</tspan><tspan x="579.15" font-size="21.50px">u</tspan><tspan x="591.65" font-size="21.50px" textLength="13.97" lengthAdjust="spacingAndGlyphs">m</tspan><tspan x="604.15" font-size="23.60px">:</tspan><tspan x="616.65"> </tspan><tspan x="629.15" font-size="23.60px">−</tspan><tspan x="641.65" font-size="23.60px" textLength="12.08" lengthAdjust="spacingAndGlyphs">0</tspan><tspan x="651.95" font-size="23.60px">.</tspan><tspan x="666.65" font-size="23.60px" textLength="12.08" lengthAdjust="spacingAndGlyphs">4</tspan><tspan x="679.15" font-size="23.60px" textLength="12.08" lengthAdjust="spacingAndGlyphs">0</tspan><tspan x="691.65" font-size="23.60px" textLength="12.08" lengthAdjust="spacingAndGlyphs">9</tspan><tspan x="704.15" font-size="23.60px" textLength="12.08" lengthAdjust="spacingAndGlyphs">9</tspan><tspan x="716.65" font-size="23.60px" textLength="12.08" lengthAdjust="spacingAndGlyphs">8</tspan></text>
<path d="M426.1 1204 H479.85" stroke="#d62728" stroke-width="4" fill="none"/>
<text y="1212.00" font-size="25px" text-anchor="middle" fill="#000" xml:space="preserve"><tspan x="504.15" font-size="21.50px" textLength="8.23" lengthAdjust="spacingAndGlyphs">r</tspan><tspan x="516.65" font-size="21.50px">e</tspan><tspan x="529.15" font-size="21.50px">s</tspan><tspan x="541.65" font-size="21.50px">i</tspan><tspan x="554.15" font-size="21.50px">d</tspan><tspan x="566.65" font-size="21.50px">u</tspan><tspan x="579.15" font-size="21.50px">a</tspan><tspan x="591.65" font-size="21.50px">l</tspan><tspan x="604.15" font-size="21.50px">v</tspan><tspan x="616.65" font-size="21.50px">o</tspan><tspan x="629.15" font-size="21.50px">l</tspan><tspan x="641.65" font-size="21.50px">a</tspan><tspan x="654.15" font-size="21.50px" textLength="7.17" lengthAdjust="spacingAndGlyphs">t</tspan><tspan x="666.65" font-size="21.50px">i</tspan><tspan x="679.15" font-size="21.50px">l</tspan><tspan x="691.65" font-size="21.50px">i</tspan><tspan x="704.15" font-size="21.50px" textLength="7.17" lengthAdjust="spacingAndGlyphs">t</tspan><tspan x="716.65" font-size="21.50px">y</tspan><tspan x="729.15" font-size="23.60px">:</tspan><tspan x="741.65"> </tspan><tspan x="754.15" font-size="23.60px">−</tspan><tspan x="766.65" font-size="23.60px" textLength="12.08" lengthAdjust="spacingAndGlyphs">0</tspan><tspan x="776.95" font-size="23.60px">.</tspan><tspan x="791.65" font-size="23.60px" textLength="12.08" lengthAdjust="spacingAndGlyphs">3</tspan><tspan x="804.15" font-size="23.60px" textLength="12.08" lengthAdjust="spacingAndGlyphs">5</tspan><tspan x="816.65" font-size="23.60px" textLength="12.08" lengthAdjust="spacingAndGlyphs">2</tspan><tspan x="829.15" font-size="23.60px" textLength="12.08" lengthAdjust="spacingAndGlyphs">5</tspan></text>
<path d="M426.1 1238 H479.85" stroke="#9467bd" stroke-width="4" fill="none"/>
<text y="1246.00" font-size="25px" text-anchor="middle" fill="#000" xml:space="preserve"><tspan x="504.15" font-size="21.50px">n</tspan><tspan x="516.65" font-size="21.50px">o</tspan><tspan x="529.15" font-size="21.50px">n</tspan><tspan x="541.65" font-size="21.50px">l</tspan><tspan x="554.15" font-size="21.50px">i</tspan><tspan x="566.65" font-size="21.50px">n</tspan><tspan x="579.15" font-size="21.50px">e</tspan><tspan x="591.65" font-size="21.50px">a</tspan><tspan x="604.15" font-size="21.50px" textLength="8.23" lengthAdjust="spacingAndGlyphs">r</tspan><tspan x="616.65" font-size="21.50px">s</tspan><tspan x="629.15" font-size="21.50px">i</tspan><tspan x="641.65" font-size="21.50px">z</tspan><tspan x="654.15" font-size="21.50px">e</tspan><tspan x="666.65" font-size="23.60px">:</tspan><tspan x="679.15"> </tspan><tspan x="691.65" font-size="23.60px">−</tspan><tspan x="704.15" font-size="23.60px" textLength="12.08" lengthAdjust="spacingAndGlyphs">0</tspan><tspan x="714.45" font-size="23.60px">.</tspan><tspan x="729.15" font-size="23.60px" textLength="12.08" lengthAdjust="spacingAndGlyphs">5</tspan><tspan x="741.65" font-size="23.60px" textLength="12.08" lengthAdjust="spacingAndGlyphs">5</tspan><tspan x="754.15" font-size="23.60px" textLength="12.08" lengthAdjust="spacingAndGlyphs">1</tspan><tspan x="766.65" font-size="23.60px" textLength="12.08" lengthAdjust="spacingAndGlyphs">5</tspan><tspan x="779.15" font-size="23.60px" textLength="12.08" lengthAdjust="spacingAndGlyphs">6</tspan></text>
<path d="M426.1 1271 H479.85" stroke="#8c564b" stroke-width="4" fill="none"/>
<text y="1279.00" font-size="25px" text-anchor="middle" fill="#000" xml:space="preserve"><tspan x="504.15" font-size="21.50px">b</tspan><tspan x="516.65" font-size="21.50px" textLength="7.17" lengthAdjust="spacingAndGlyphs">t</tspan><tspan x="529.15" font-size="21.50px">o</tspan><tspan x="541.65" font-size="21.50px">p</tspan><tspan x="554.15" font-size="23.60px">:</tspan><tspan x="566.65"> </tspan><tspan x="579.15" font-size="23.60px">−</tspan><tspan x="591.65" font-size="23.60px" textLength="12.08" lengthAdjust="spacingAndGlyphs">0</tspan><tspan x="601.95" font-size="23.60px">.</tspan><tspan x="616.65" font-size="23.60px" textLength="12.08" lengthAdjust="spacingAndGlyphs">0</tspan><tspan x="629.15" font-size="23.60px" textLength="12.08" lengthAdjust="spacingAndGlyphs">0</tspan><tspan x="641.65" font-size="23.60px" textLength="12.08" lengthAdjust="spacingAndGlyphs">6</tspan><tspan x="654.15" font-size="23.60px" textLength="12.08" lengthAdjust="spacingAndGlyphs">4</tspan></text>
<path d="M426.1 1306 H479.85" stroke="#e377c2" stroke-width="4" fill="none"/>
<text y="1314.00" font-size="25px" text-anchor="middle" fill="#000" xml:space="preserve"><tspan x="504.15" font-size="21.50px">l</tspan><tspan x="516.65" font-size="21.50px">i</tspan><tspan x="529.15" font-size="21.50px">q</tspan><tspan x="541.65" font-size="21.50px">u</tspan><tspan x="554.15" font-size="21.50px">i</tspan><tspan x="566.65" font-size="21.50px">d</tspan><tspan x="579.15" font-size="21.50px">i</tspan><tspan x="591.65" font-size="21.50px" textLength="7.17" lengthAdjust="spacingAndGlyphs">t</tspan><tspan x="604.15" font-size="21.50px">y</tspan><tspan x="616.65" font-size="23.60px">:</tspan><tspan x="629.15"> </tspan><tspan x="641.65" font-size="23.60px">−</tspan><tspan x="654.15" font-size="23.60px" textLength="12.08" lengthAdjust="spacingAndGlyphs">0</tspan><tspan x="664.45" font-size="23.60px">.</tspan><tspan x="679.15" font-size="23.60px" textLength="12.08" lengthAdjust="spacingAndGlyphs">4</tspan><tspan x="691.65" font-size="23.60px" textLength="12.08" lengthAdjust="spacingAndGlyphs">2</tspan><tspan x="704.15" font-size="23.60px" textLength="12.08" lengthAdjust="spacingAndGlyphs">3</tspan><tspan x="716.65" font-size="23.60px" textLength="12.08" lengthAdjust="spacingAndGlyphs">8</tspan><tspan x="729.15" font-size="23.60px" textLength="12.08" lengthAdjust="spacingAndGlyphs">6</tspan></text>
<path d="M426.1 1340 H479.85" stroke="#7f7f7f" stroke-width="4" fill="none"/>
<text y="1348.00" font-size="25px" text-anchor="middle" fill="#000" xml:space="preserve"><tspan x="504.15" font-size="21.50px">e</tspan><tspan x="516.65" font-size="21.50px">a</tspan><tspan x="529.15" font-size="21.50px" textLength="8.23" lengthAdjust="spacingAndGlyphs">r</tspan><tspan x="541.65" font-size="21.50px">n</tspan><tspan x="554.15" font-size="21.50px">i</tspan><tspan x="566.65" font-size="21.50px">n</tspan><tspan x="579.15" font-size="21.50px">g</tspan><tspan x="591.65" font-size="21.50px">s</tspan><tspan x="604.15" font-size="21.50px">y</tspan><tspan x="616.65" font-size="21.50px">i</tspan><tspan x="629.15" font-size="21.50px">e</tspan><tspan x="641.65" font-size="21.50px">l</tspan><tspan x="654.15" font-size="21.50px">d</tspan><tspan x="666.65" font-size="23.60px">:</tspan><tspan x="679.15"> </tspan><tspan x="691.65" font-size="23.60px">−</tspan><tspan x="704.15" font-size="23.60px" textLength="12.08" lengthAdjust="spacingAndGlyphs">0</tspan><tspan x="714.45" font-size="23.60px">.</tspan><tspan x="729.15" font-size="23.60px" textLength="12.08" lengthAdjust="spacingAndGlyphs">0</tspan><tspan x="741.65" font-size="23.60px" textLength="12.08" lengthAdjust="spacingAndGlyphs">3</tspan><tspan x="754.15" font-size="23.60px" textLength="12.08" lengthAdjust="spacingAndGlyphs">1</tspan><tspan x="766.65" font-size="23.60px" textLength="12.08" lengthAdjust="spacingAndGlyphs">2</tspan><tspan x="779.15" font-size="23.60px" textLength="12.08" lengthAdjust="spacingAndGlyphs">7</tspan></text>
<path d="M426.1 1374 H479.85" stroke="#bcbd22" stroke-width="4" fill="none"/>
<text y="1382.00" font-size="25px" text-anchor="middle" fill="#000" xml:space="preserve"><tspan x="504.15" font-size="21.50px">g</tspan><tspan x="516.65" font-size="21.50px" textLength="8.23" lengthAdjust="spacingAndGlyphs">r</tspan><tspan x="529.15" font-size="21.50px">o</tspan><tspan x="541.65" font-size="21.50px" textLength="13.20" lengthAdjust="spacingAndGlyphs">w</tspan><tspan x="554.15" font-size="21.50px" textLength="7.17" lengthAdjust="spacingAndGlyphs">t</tspan><tspan x="566.65" font-size="21.50px">h</tspan><tspan x="579.15" font-size="23.60px">:</tspan><tspan x="591.65"> </tspan><tspan x="604.15" font-size="23.60px" textLength="12.08" lengthAdjust="spacingAndGlyphs">1</tspan><tspan x="614.45" font-size="23.60px">.</tspan><tspan x="629.15" font-size="23.60px" textLength="12.08" lengthAdjust="spacingAndGlyphs">0</tspan><tspan x="641.65" font-size="23.60px" textLength="12.08" lengthAdjust="spacingAndGlyphs">5</tspan><tspan x="654.15" font-size="23.60px" textLength="12.08" lengthAdjust="spacingAndGlyphs">3</tspan><tspan x="666.65" font-size="23.60px" textLength="12.08" lengthAdjust="spacingAndGlyphs">1</tspan></text>
<path d="M426.1 1408 H479.85" stroke="#17becf" stroke-width="4" fill="none"/>
<text y="1416.00" font-size="25px" text-anchor="middle" fill="#000" xml:space="preserve"><tspan x="504.15" font-size="21.50px">l</tspan><tspan x="516.65" font-size="21.50px">e</tspan><tspan x="529.15" font-size="21.50px">v</tspan><tspan x="541.65" font-size="21.50px">e</tspan><tspan x="554.15" font-size="21.50px" textLength="8.23" lengthAdjust="spacingAndGlyphs">r</tspan><tspan x="566.65" font-size="21.50px">a</tspan><tspan x="579.15" font-size="21.50px">g</tspan><tspan x="591.65" font-size="21.50px">e</tspan><tspan x="604.15" font-size="23.60px">:</tspan><tspan x="616.65"> </tspan><tspan x="629.15" font-size="23.60px">−</tspan><tspan x="641.65" font-size="23.60px" textLength="12.08" lengthAdjust="spacingAndGlyphs">0</tspan><tspan x="651.95" font-size="23.60px">.</tspan><tspan x="666.65" font-size="23.60px" textLength="12.08" lengthAdjust="spacingAndGlyphs">1</tspan><tspan x="679.15" font-size="23.60px" textLength="12.08" lengthAdjust="spacingAndGlyphs">4</tspan><tspan x="691.65" font-size="23.60px" textLength="12.08" lengthAdjust="spacingAndGlyphs">5</tspan><tspan x="704.15" font-size="23.60px" textLength="12.08" lengthAdjust="spacingAndGlyphs">0</tspan><tspan x="716.65" font-size="23.60px" textLength="12.08" lengthAdjust="spacingAndGlyphs">1</tspan></text>
</g>
</svg>
</body></html>
